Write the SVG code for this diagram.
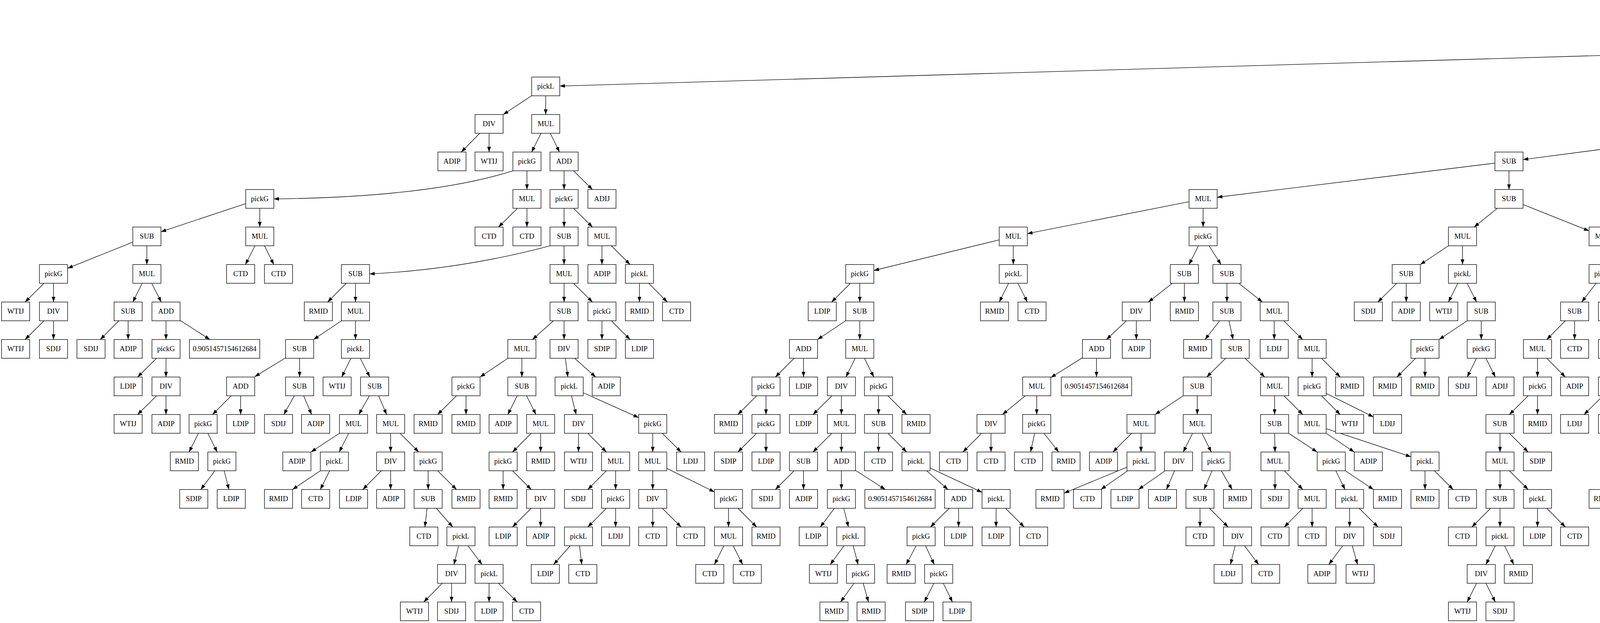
<svg xmlns="http://www.w3.org/2000/svg" width="7183" height="1595" viewBox="0 0 7183 1595">
<style>
.n rect{fill:#fff;stroke:#000;stroke-width:1.33}
.n text{font-family:"Liberation Serif","Times New Roman",serif;font-size:18.67px;text-anchor:middle;fill:#000}
#edges path{fill:none;stroke:#000;stroke-width:1.33;marker-end:url(#ah)}
</style>
<defs>
<marker id="ah" markerUnits="userSpaceOnUse" markerWidth="14" markerHeight="10" viewBox="0 0 14 10" refX="13.3" refY="5" orient="auto"><path d="M0,0.3 L13.3,5 L0,9.7 z" fill="#000"/></marker>
</defs>
<rect width="7183" height="1595" fill="#fff"/>
<g id="edges">
<path d="M5077 37.1 L4705 117.5"/><path d="M5149 40.3 L5392 114.4"/>
<path d="M4633 126.4 L1433 220.3"/><path d="M4669 149.3 V197.3"/><path d="M5428 149.3 V197.3"/><path d="M5464 137.3 L5680 209.3"/>
<path d="M1360.75 245.3 L1288.25 293.3"/><path d="M1397 245.3 V293.3"/><path d="M4651 245.3 L4615 293.3"/><path d="M4687 245.3 L4723 293.3"/><path d="M5416 245.3 L5392 293.3"/><path d="M5452 245.3 L5500 293.3"/><path d="M5716 245.3 V293.3"/><path d="M5752 233.3 L5968 305.3"/>
<path d="M1228.25 341.3 L1180.75 389.3"/><path d="M1252 341.3 V389.3"/><path d="M1385 341.3 L1361 389.3"/><path d="M1408.75 341.3 L1432.25 389.3"/><path d="M4561 322 L3899 408.6"/><path d="M4597 341.3 V389.3"/><path d="M4741 341.3 V389.3"/><path d="M4765 341.3 L4813 389.3"/><path d="M5344 339 L5257 391.6"/><path d="M5380 341.3 V389.3"/><path d="M5524 341.3 V389.3"/><path d="M5560 326.3 L5872 404.3"/><path d="M6004 341.3 V389.3"/><path d="M6040 340.2 L6117.25 389.3"/>
<path d="M1313 437.3 Q1099 505 701 509.3"/><path d="M1349 437.3 V485.3"/><path d="M1444 437.3 V485.3"/><path d="M1468.25 437.3 L1516.75 485.3"/><path d="M3827 417.7 L3116 505"/><path d="M3863 437.3 V485.3"/><path d="M4585 437.3 L4561 485.3"/><path d="M4609 437.3 L4633 485.3"/><path d="M4741 437.3 V485.3"/><path d="M4765 437.3 L4813 485.3"/><path d="M5185 437.3 L5113 485.3"/><path d="M5221 437.3 V485.3"/><path d="M5379.25 437.3 L5377.75 485.3"/><path d="M5416 421.2 L5779 501.4"/><path d="M5908.75 437.3 L5910.25 485.3"/><path d="M5944 437.3 Q6180 505 6601 509.3"/>
<path d="M629 521.3 L412 593.4"/><path d="M665 533.3 V581.3"/><path d="M1324.75 533.3 L1276.25 581.3"/><path d="M1349 533.3 V581.3"/><path d="M1444 533.3 V581.3"/><path d="M1468.25 533.3 L1516.75 581.3"/><path d="M3044 516.4 L2630 598.2"/><path d="M3080 533.3 V581.3"/><path d="M3833.25 533.3 L3773.75 581.3"/><path d="M3899 523.6 L4068 591"/><path d="M4645 533.3 V581.3"/><path d="M4681 533.3 L4753 581.3"/><path d="M5053 533.3 L5005 581.3"/><path d="M5077 533.3 V581.3"/><path d="M5350 533.3 L5296 581.3"/><path d="M5377 533.3 V581.3"/><path d="M5821 533.3 L5833 581.3"/><path d="M5851 531 Q6050 600 6361 605.3"/><path d="M6637 533.3 V581.3"/><path d="M6661 533.3 L6709 581.3"/>
<path d="M340 619.8 L173 686.9"/><path d="M376 629.3 V677.3"/><path d="M652.75 629.3 L628.25 677.3"/><path d="M677 629.3 L701 677.3"/><path d="M1408 629.3 Q1180 690 946 701.3"/><path d="M1444 629.3 V677.3"/><path d="M1541 629.3 V677.3"/><path d="M1565 629.3 L1613 677.3"/><path d="M2558 614.1 L2237 692.5"/><path d="M2594 629.3 V677.3"/><path d="M3068 629.3 L3044 677.3"/><path d="M3095.25 629.3 L3125.75 677.3"/><path d="M3708 629.3 L3636 677.3"/><path d="M3744 629.3 V677.3"/><path d="M4104 629.3 V677.3"/><path d="M4140 629.3 L4212 677.3"/><path d="M4633 629.3 L4609 677.3"/><path d="M4657 629.3 L4681 677.3"/><path d="M4789 629.3 V677.3"/><path d="M4813 629.3 L4861 677.3"/><path d="M5053 629.3 L5005 677.3"/><path d="M5077 629.3 V677.3"/><path d="M5245 629.3 L5197 677.3"/><path d="M5269 629.3 V677.3"/><path d="M5374 629.3 L5368 677.3"/><path d="M5398 629.3 L5440 677.3"/><path d="M5839 629.3 V677.3"/><path d="M5864.25 629.3 L5914.75 677.3"/><path d="M6397 629.3 V677.3"/><path d="M6432.75 629.3 L6504.25 677.3"/><path d="M6637 629.3 V677.3"/><path d="M6661 629.3 L6709 677.3"/>
<path d="M112.75 725.3 L64.25 773.3"/><path d="M137 725.3 V773.3"/><path d="M364 725.3 L340 773.3"/><path d="M388.25 725.3 L412.75 773.3"/><path d="M886.25 725.3 L838.75 773.3"/><path d="M910 725.3 V773.3"/><path d="M1444 725.3 V773.3"/><path d="M1468.25 725.3 L1516.75 773.3"/><path d="M1637 725.3 V773.3"/><path d="M1660.75 725.3 L1708.25 773.3"/><path d="M2177 725.3 L2129 773.3"/><path d="M2201 725.3 V773.3"/><path d="M2582 725.3 L2558 773.3"/><path d="M2606 725.3 L2630 773.3"/><path d="M3001.25 725.3 L2939.75 773.3"/><path d="M3032 725.3 V773.3"/><path d="M3141 725.3 V773.3"/><path d="M3171.25 725.3 L3231.75 773.3"/><path d="M3575.75 725.3 L3527.25 773.3"/><path d="M3600 725.3 V773.3"/><path d="M3732 725.3 L3708 773.3"/><path d="M3756 725.3 L3780 773.3"/><path d="M4085.75 725.3 L4049.25 773.3"/><path d="M4110 725.3 L4122 773.3"/><path d="M4248 725.3 V773.3"/><path d="M4284 724.2 L4361.25 773.3"/><path d="M4585 725.3 L4561 773.3"/><path d="M4609 725.3 L4633 773.3"/><path d="M4705 725.3 L4729 773.3"/><path d="M4729 725.3 L4801 773.3"/><path d="M5053 725.3 L5005 773.3"/><path d="M5077 725.3 V773.3"/><path d="M5245 725.3 L5197 773.3"/><path d="M5269 725.3 V773.3"/><path d="M5436.75 725.3 L5388.25 773.3"/><path d="M5461 725.3 V773.3"/><path d="M5803 719.9 L5689 778.7"/><path d="M5839.75 725.3 L5841.25 773.3"/><path d="M5940 725.3 V773.3"/><path d="M5964.25 725.3 L6012.75 773.3"/><path d="M6391 725.3 L6379 773.3"/><path d="M6415 725.3 L6451 773.3"/><path d="M6546 725.3 L6558 773.3"/><path d="M6570.25 725.3 L6630.75 773.3"/>
<path d="M112.75 821.3 L64.25 869.3"/><path d="M137 821.3 V869.3"/><path d="M304.25 821.3 L256.75 869.3"/><path d="M328 821.3 V869.3"/><path d="M425 821.3 V869.3"/><path d="M461 820.3 L537.5 869.3"/><path d="M874.25 821.3 L802.75 869.3"/><path d="M910 821.3 V869.3"/><path d="M1417 821.3 L1363 869.3"/><path d="M1444 821.3 V869.3"/><path d="M1541 821.3 V869.3"/><path d="M1565 821.3 L1613 869.3"/><path d="M2165 821.3 L2093 869.3"/><path d="M2201 821.3 V869.3"/><path d="M2883.5 821.3 L2832.5 869.3"/><path d="M2909 821.3 V869.3"/><path d="M3122.25 821.3 L3084.75 869.3"/><path d="M3146.25 821.3 L3156.75 869.3"/><path d="M3262 821.3 V869.3"/><path d="M3286.25 821.3 L3334.75 869.3"/><path d="M3756 821.3 L3684 869.3"/><path d="M3792 821.3 V869.3"/><path d="M4007.25 821.3 L3959.75 869.3"/><path d="M4031 821.3 V869.3"/><path d="M4128 821.3 V869.3"/><path d="M4152 821.3 L4200 869.3"/><path d="M4266 821.3 L4302 869.3"/><path d="M4284 814.2 L4417 876.4"/><path d="M4549 821.3 V869.3"/><path d="M4573 821.3 L4621 869.3"/><path d="M5328 821.3 Q5100 880 4921 893.3"/><path d="M5340.25 821.3 L5292.75 869.3"/><path d="M5437 821.3 L5389 869.3"/><path d="M5461 821.3 V869.3"/><path d="M5629 821.3 L5581 869.3"/><path d="M5653 821.3 V869.3"/><path d="M5842 821.3 V869.3"/><path d="M5866.75 821.3 L5916.25 869.3"/><path d="M6037 821.3 V869.3"/><path d="M6061 821.3 L6109 869.3"/><path d="M6349 821.3 L6301 869.3"/><path d="M6373 821.3 V869.3"/><path d="M6469 821.3 V869.3"/><path d="M6492.75 821.3 L6540.25 869.3"/><path d="M6661 821.3 V869.3"/><path d="M6697 821.3 L6769 869.3"/>
<path d="M400.75 917.3 L352.25 965.3"/><path d="M425 917.3 V965.3"/><path d="M731 916.2 L652 964.4"/><path d="M767 917.3 V965.3"/><path d="M898.25 917.3 L874.75 965.3"/><path d="M922.25 917.3 L946.75 965.3"/><path d="M1300.25 917.3 L1228.75 965.3"/><path d="M1336 917.3 V965.3"/><path d="M1447.25 917.3 L1453.75 965.3"/><path d="M1471 917.3 L1525 965.3"/><path d="M2033 917.3 L1985 965.3"/><path d="M2057 917.3 V965.3"/><path d="M2189.25 917.3 L2165.75 965.3"/><path d="M2213 917.3 L2237 965.3"/><path d="M2771 915.9 L2690 966.7"/><path d="M2807 917.3 V965.3"/><path d="M3137.75 917.3 L3089.25 965.3"/><path d="M3187.25 917.3 L3237.75 965.3"/><path d="M3359 917.3 V965.3"/><path d="M3383 917.3 L3431 965.3"/><path d="M3624 917.3 L3576 965.3"/><path d="M3648 917.3 V965.3"/><path d="M3780 917.3 L3756 965.3"/><path d="M3804 917.3 L3828 965.3"/><path d="M3936 917.3 V965.3"/><path d="M3959.75 917.3 L4007.25 965.3"/><path d="M4200 917.3 L4152 965.3"/><path d="M4224 917.3 V965.3"/><path d="M4320 917.3 V965.3"/><path d="M4344 917.3 L4392 965.3"/><path d="M4467.75 917.3 L4497.25 965.3"/><path d="M4489 915.6 L4572 967"/><path d="M4861 917.3 L4813 965.3"/><path d="M4885 917.3 V965.3"/><path d="M5521 917.3 Q5350 975 5161 989.3"/><path d="M5533 917.3 L5485 965.3"/><path d="M5629 917.3 L5581 965.3"/><path d="M5653 917.3 V965.3"/><path d="M5818.75 917.3 L5772.25 965.3"/><path d="M5842.75 917.3 L5844.25 965.3"/><path d="M5941 917.3 V965.3"/><path d="M5965 917.3 L6013 965.3"/><path d="M6133 917.3 V965.3"/><path d="M6157 917.3 L6205 965.3"/><path d="M6288.75 917.3 L6312.25 965.3"/><path d="M6312.75 917.3 L6384.25 965.3"/><path d="M6636.75 917.3 L6588.25 965.3"/><path d="M6661 917.3 V965.3"/><path d="M6805 917.3 V965.3"/><path d="M6840.75 917.3 L6912.25 965.3"/>
<path d="M400.75 1013.3 L352.25 1061.3"/><path d="M425 1013.3 V1061.3"/><path d="M592 1013.3 L544 1061.3"/><path d="M616 1013.3 V1061.3"/><path d="M753.5 1013.3 L726.5 1061.3"/><path d="M777.25 1013.3 L797.75 1061.3"/><path d="M945.5 1013.3 L918.5 1061.3"/><path d="M969.25 1013.3 L989.75 1061.3"/><path d="M1168.75 1013.3 L1120.25 1061.3"/><path d="M1193 1013.3 V1061.3"/><path d="M1324 1013.3 L1300 1061.3"/><path d="M1348 1013.3 L1372 1061.3"/><path d="M1463 1013.3 L1475 1061.3"/><path d="M1493 1005.5 L1635 1069.2"/><path d="M1937 1013.3 L1889 1061.3"/><path d="M1961 1013.3 V1061.3"/><path d="M2129.75 1013.3 L2081.25 1061.3"/><path d="M2154 1013.3 V1061.3"/><path d="M2249 1013.3 V1061.3"/><path d="M2273 1013.3 L2321 1061.3"/><path d="M2624.75 1013.3 L2566.25 1061.3"/><path d="M2654 1013.3 V1061.3"/><path d="M3029 1013.3 L2957 1061.3"/><path d="M3065 1013.3 V1061.3"/><path d="M3263 1013.3 V1061.3"/><path d="M3287 1013.3 L3335 1061.3"/><path d="M3383 1013.3 L3431 1061.3"/><path d="M3395 1007.2 L3516 1067.4"/><path d="M3912 1013.3 L3864 1061.3"/><path d="M3936 1013.3 V1061.3"/><path d="M4103.75 1013.3 L4055.25 1061.3"/><path d="M4128 1013.3 V1061.3"/><path d="M4224 1013.3 V1061.3"/><path d="M4248 1013.3 L4296 1061.3"/><path d="M4861 1013.3 L4813 1061.3"/><path d="M4885 1013.3 V1061.3"/><path d="M5089 1013.3 L5017 1061.3"/><path d="M5125 1013.3 V1061.3"/><path d="M5521 1007.3 L5401 1067.3"/><path d="M5557 1013.3 V1061.3"/><path d="M5737 1013.3 L5713 1061.3"/><path d="M5760.75 1013.3 L5784.25 1061.3"/><path d="M5857 1013.3 L5881 1061.3"/><path d="M5881 1013.3 L5953 1061.3"/><path d="M6049 1013.3 L6073 1061.3"/><path d="M6073 1013.3 L6145 1061.3"/><path d="M6408.25 1013.3 L6384.75 1061.3"/><path d="M6432.25 1013.3 L6456.75 1061.3"/><path d="M6636.75 1013.3 L6588.25 1061.3"/><path d="M6661 1013.3 V1061.3"/><path d="M6793 1013.3 L6769 1061.3"/><path d="M6817 1013.3 L6841 1061.3"/><path d="M6948 1013.3 V1061.3"/><path d="M6972.25 1013.3 L7020.75 1061.3"/>
<path d="M508 1109.3 L484 1157.3"/><path d="M532 1109.3 L556 1157.3"/><path d="M868.75 1109.3 L796.25 1157.3"/><path d="M892.75 1109.3 L868.25 1157.3"/><path d="M1000 1109.3 V1157.3"/><path d="M1024 1109.3 L1072 1157.3"/><path d="M1360 1109.3 L1312 1157.3"/><path d="M1384 1109.3 V1157.3"/><path d="M1481 1109.3 V1157.3"/><path d="M1504.75 1109.3 L1552.25 1157.3"/><path d="M1671 1109.3 V1157.3"/><path d="M1695.25 1109.3 L1743.75 1157.3"/><path d="M1937 1109.3 L1889 1157.3"/><path d="M1961 1109.3 V1157.3"/><path d="M2129.75 1109.3 L2081.25 1157.3"/><path d="M2154 1109.3 V1157.3"/><path d="M2249 1109.3 V1157.3"/><path d="M2273 1109.3 L2321 1157.3"/><path d="M2513 1109.3 L2465 1157.3"/><path d="M2537 1109.3 V1157.3"/><path d="M2648.75 1109.3 L2638.25 1157.3"/><path d="M2672.75 1109.3 L2710.25 1157.3"/><path d="M2897 1109.3 L2849 1157.3"/><path d="M2921 1109.3 V1157.3"/><path d="M3053 1109.3 L3029 1157.3"/><path d="M3077 1109.3 L3101 1157.3"/><path d="M3263 1109.3 L3264 1157.3"/><path d="M3299.25 1109.3 L3371.75 1157.3"/><path d="M3395 1109.3 L3467 1157.3"/><path d="M3395 1097.3 L3612 1169.4"/><path d="M3840 1109.3 V1157.3"/><path d="M3864 1109.3 L3912 1157.3"/><path d="M4218 1109.3 L4206 1157.3"/><path d="M4242 1109.3 L4278 1157.3"/><path d="M4765 1109.3 L4717 1157.3"/><path d="M4789 1109.3 V1157.3"/><path d="M4957 1109.3 L4909 1157.3"/><path d="M4981 1109.3 V1157.3"/><path d="M5113 1109.3 L5089 1157.3"/><path d="M5137 1109.3 L5161 1157.3"/><path d="M5341 1109.3 L5293 1157.3"/><path d="M5365 1109.3 V1157.3"/><path d="M5533 1109.3 L5485 1157.3"/><path d="M5557 1109.3 V1157.3"/><path d="M5689 1109.3 L5665 1157.3"/><path d="M5713 1109.3 L5737 1157.3"/><path d="M5808.25 1109.3 L5832.75 1157.3"/><path d="M5832.25 1109.3 L5904.75 1157.3"/><path d="M6001 1109.3 L6025 1157.3"/><path d="M6025 1109.3 L6097 1157.3"/><path d="M6936.25 1109.3 L6912.75 1157.3"/><path d="M6960.25 1109.3 L6984.75 1157.3"/>
<path d="M550 1205.3 L514 1253.3"/><path d="M574 1205.3 L586 1253.3"/><path d="M820.25 1205.3 L748.75 1253.3"/><path d="M844 1205.3 L820 1253.3"/><path d="M976.25 1205.3 L928.75 1253.3"/><path d="M1000 1205.3 V1253.3"/><path d="M1096 1205.3 V1253.3"/><path d="M1120.25 1205.3 L1168.75 1253.3"/><path d="M1288 1205.3 V1253.3"/><path d="M1312 1205.3 L1360 1253.3"/><path d="M1552.25 1205.3 L1504.75 1253.3"/><path d="M1576 1205.3 V1253.3"/><path d="M1671 1205.3 V1253.3"/><path d="M1707 1199.1 L1829 1259.5"/><path d="M2033 1205.3 L1985 1253.3"/><path d="M2057 1205.3 V1253.3"/><path d="M2154 1205.3 V1253.3"/><path d="M2190 1204.3 L2266.5 1253.3"/><path d="M2372.25 1205.3 L2426.75 1253.3"/><path d="M2381 1198.2 L2514 1260.4"/><path d="M2885 1196.1 L2724 1262.5"/><path d="M2886.75 1205.3 L2818.25 1253.3"/><path d="M2982.75 1205.3 L2914.25 1253.3"/><path d="M3006.75 1205.3 L2986.25 1253.3"/><path d="M3102.75 1205.3 L3082.25 1253.3"/><path d="M3126.75 1205.3 L3154.25 1253.3"/><path d="M3264 1205.3 V1253.3"/><path d="M3287.75 1205.3 L3335.25 1253.3"/><path d="M3419.75 1205.3 L3443.25 1253.3"/><path d="M3444 1205.3 L3516 1253.3"/><path d="M3648 1205.3 V1253.3"/><path d="M3672 1205.3 L3720 1253.3"/><path d="M3840 1205.3 V1253.3"/><path d="M3864 1205.3 L3912 1253.3"/><path d="M4176 1205.3 L4128 1253.3"/><path d="M4200 1205.3 V1253.3"/><path d="M4296 1205.3 V1253.3"/><path d="M4320 1205.3 L4368 1253.3"/><path d="M4861 1205.3 L4813 1253.3"/><path d="M4885 1205.3 V1253.3"/><path d="M4981 1205.3 V1253.3"/><path d="M5005 1205.3 L5053 1253.3"/><path d="M5245 1205.3 L5197 1253.3"/><path d="M5269 1205.3 V1253.3"/><path d="M5365 1205.3 V1253.3"/><path d="M5389 1205.3 L5437 1253.3"/><path d="M5557 1205.3 V1253.3"/><path d="M5593 1199.3 L5713 1259.3"/><path d="M6121 1205.3 L6097 1253.3"/><path d="M6145 1205.3 L6169 1253.3"/><path d="M6984.75 1205.3 L6960.25 1253.3"/><path d="M7009 1205.3 L7033 1253.3"/>
<path d="M1093.25 1301.3 L1087.75 1349.3"/><path d="M1117 1301.3 L1159 1349.3"/><path d="M1360 1301.3 L1312 1349.3"/><path d="M1384 1301.3 V1349.3"/><path d="M1552.25 1301.3 L1504.75 1349.3"/><path d="M1576 1301.3 V1349.3"/><path d="M1671 1301.3 V1349.3"/><path d="M1695.25 1301.3 L1743.75 1349.3"/><path d="M1865 1301.3 V1349.3"/><path d="M1889 1301.3 L1937 1349.3"/><path d="M2136 1301.3 L2100 1349.3"/><path d="M2160 1301.3 L2172 1349.3"/><path d="M2430 1301.3 L2382 1349.3"/><path d="M2454 1301.3 V1349.3"/><path d="M2550 1301.3 V1349.3"/><path d="M2574 1301.3 L2622 1349.3"/><path d="M3072 1301.3 V1349.3"/><path d="M3096 1301.3 L3144 1349.3"/><path d="M3335.25 1301.3 L3287.75 1349.3"/><path d="M3359 1301.3 V1349.3"/><path d="M3455 1301.3 V1349.3"/><path d="M3479.25 1301.3 L3527.75 1349.3"/><path d="M3816 1301.3 L3768 1349.3"/><path d="M3840 1301.3 V1349.3"/><path d="M3936 1301.3 V1349.3"/><path d="M3959.75 1301.3 L4007.25 1349.3"/><path d="M4194 1301.3 L4182 1349.3"/><path d="M4218 1301.3 L4254 1349.3"/><path d="M5245 1301.3 L5197 1349.3"/><path d="M5269 1301.3 V1349.3"/><path d="M5365 1301.3 V1349.3"/><path d="M5389 1301.3 L5437 1349.3"/><path d="M5557 1301.3 V1349.3"/><path d="M5581 1301.3 L5629 1349.3"/><path d="M5749 1301.3 V1349.3"/><path d="M5773 1301.3 L5821 1349.3"/><path d="M6061 1301.3 L6013 1349.3"/><path d="M6085 1301.3 V1349.3"/><path d="M6181 1301.3 V1349.3"/><path d="M6205 1301.3 L6253 1349.3"/><path d="M6924.25 1301.3 L6876.75 1349.3"/><path d="M6948 1301.3 V1349.3"/><path d="M7045 1301.3 V1349.3"/><path d="M7069 1301.3 L7117 1349.3"/>
<path d="M1174 1397.3 L1162 1445.3"/><path d="M1198 1397.3 L1234 1445.3"/><path d="M1459.75 1397.3 L1417.25 1445.3"/><path d="M1483.75 1397.3 L1489.25 1445.3"/><path d="M1853 1397.3 L1829 1445.3"/><path d="M1877 1397.3 L1901 1445.3"/><path d="M2160.5 1397.3 L2125.5 1445.3"/><path d="M2184.25 1397.3 L2196.75 1445.3"/><path d="M2345.25 1397.3 L2319.75 1445.3"/><path d="M2369.25 1397.3 L2391.75 1445.3"/><path d="M3162 1397.3 L3150 1445.3"/><path d="M3186 1397.3 L3222 1445.3"/><path d="M3437.25 1397.3 L3401.75 1445.3"/><path d="M3461.75 1397.3 L3475.25 1445.3"/><path d="M3828 1397.3 L3804 1445.3"/><path d="M3851.75 1397.3 L3875.25 1445.3"/><path d="M4260 1397.3 L4236 1445.3"/><path d="M4284 1397.3 L4308 1445.3"/><path d="M5149 1397.3 L5101 1445.3"/><path d="M5173 1397.3 V1445.3"/><path d="M5269 1397.3 V1445.3"/><path d="M5293 1397.3 L5341 1445.3"/><path d="M5737 1397.3 L5713 1445.3"/><path d="M5760.75 1397.3 L5784.25 1445.3"/>
<path d="M1132.25 1493.3 L1084.75 1541.3"/><path d="M1156 1493.3 V1541.3"/><path d="M1252 1493.3 V1541.3"/><path d="M1276 1493.3 L1324 1541.3"/><path d="M2186 1493.3 L2152 1541.3"/><path d="M2209.75 1493.3 L2223.25 1541.3"/><path d="M2390.75 1493.3 L2366.25 1541.3"/><path d="M2414.75 1493.3 L2438.25 1541.3"/><path d="M3780 1493.3 L3756 1541.3"/><path d="M3804 1493.3 L3828 1541.3"/><path d="M4212 1493.3 L4188 1541.3"/><path d="M4236 1493.3 L4260 1541.3"/>
</g>
<g id="nodes">
<g id="n0_5113" class="n" transform="translate(5113,29.3)"><rect x="-36" y="-24" width="72" height="48"/><text y="5.6">pickL</text></g>
<g id="n1_4669" class="n" transform="translate(4669,125.3)"><rect x="-36" y="-24" width="72" height="48"/><text y="5.6">pickL</text></g>
<g id="n1_5428" class="n" transform="translate(5428,125.3)"><rect x="-36" y="-24" width="72" height="48"/><text y="5.6">MUL</text></g>
<g id="n2_1397" class="n" transform="translate(1397,221.3)"><rect x="-36" y="-24" width="72" height="48"/><text y="5.6">pickL</text></g>
<g id="n2_4669" class="n" transform="translate(4669,221.3)"><rect x="-36" y="-24" width="72" height="48"/><text y="5.6">MUL</text></g>
<g id="n2_5428" class="n" transform="translate(5428,221.3)"><rect x="-36" y="-24" width="72" height="48"/><text y="5.6">pickG</text></g>
<g id="n2_5716" class="n" transform="translate(5716,221.3)"><rect x="-36" y="-24" width="72" height="48"/><text y="5.6">MUL</text></g>
<g id="n3_1252" class="n" transform="translate(1252,317.3)"><rect x="-36" y="-24" width="72" height="48"/><text y="5.6">DIV</text></g>
<g id="n3_1397" class="n" transform="translate(1397,317.3)"><rect x="-36" y="-24" width="72" height="48"/><text y="5.6">MUL</text></g>
<g id="n3_4597" class="n" transform="translate(4597,317.3)"><rect x="-36" y="-24" width="72" height="48"/><text y="5.6">pickG</text></g>
<g id="n3_4741" class="n" transform="translate(4741,317.3)"><rect x="-36" y="-24" width="72" height="48"/><text y="5.6">ADD</text></g>
<g id="n3_5380" class="n" transform="translate(5380,317.3)"><rect x="-36" y="-24" width="72" height="48"/><text y="5.6">SUB</text></g>
<g id="n3_5524" class="n" transform="translate(5524,317.3)"><rect x="-36" y="-24" width="72" height="48"/><text y="5.6">DIV</text></g>
<g id="n3_5716" class="n" transform="translate(5716,317.3)"><rect x="-36" y="-24" width="72" height="48"/><text y="5.6">ADIP</text></g>
<g id="n3_6004" class="n" transform="translate(6004,317.3)"><rect x="-36" y="-24" width="72" height="48"/><text y="5.6">ADD</text></g>
<g id="n4_1157" class="n" transform="translate(1157,413.3)"><rect x="-36" y="-24" width="72" height="48"/><text y="5.6">ADIP</text></g>
<g id="n4_1252" class="n" transform="translate(1252,413.3)"><rect x="-36" y="-24" width="72" height="48"/><text y="5.6">WTIJ</text></g>
<g id="n4_1349" class="n" transform="translate(1349,413.3)"><rect x="-36" y="-24" width="72" height="48"/><text y="5.6">pickG</text></g>
<g id="n4_1444" class="n" transform="translate(1444,413.3)"><rect x="-36" y="-24" width="72" height="48"/><text y="5.6">ADD</text></g>
<g id="n4_3863" class="n" transform="translate(3863,413.3)"><rect x="-36" y="-24" width="72" height="48"/><text y="5.6">SUB</text></g>
<g id="n4_4597" class="n" transform="translate(4597,413.3)"><rect x="-36" y="-24" width="72" height="48"/><text y="5.6">DIV</text></g>
<g id="n4_4741" class="n" transform="translate(4741,413.3)"><rect x="-36" y="-24" width="72" height="48"/><text y="5.6">MUL</text></g>
<g id="n4_4837" class="n" transform="translate(4837,413.3)"><rect x="-36" y="-24" width="72" height="48"/><text y="5.6">ADIJ</text></g>
<g id="n4_5221" class="n" transform="translate(5221,413.3)"><rect x="-36" y="-24" width="72" height="48"/><text y="5.6">MUL</text></g>
<g id="n4_5380" class="n" transform="translate(5380,413.3)"><rect x="-36" y="-24" width="72" height="48"/><text y="5.6">SUB</text></g>
<g id="n4_5524" class="n" transform="translate(5524,413.3)"><rect x="-36" y="-24" width="72" height="48"/><text y="5.6">RMID</text></g>
<g id="n4_5908" class="n" transform="translate(5908,413.3)"><rect x="-36" y="-24" width="72" height="48"/><text y="5.6">MUL</text></g>
<g id="n4_6004" class="n" transform="translate(6004,413.3)"><rect x="-36" y="-24" width="72" height="48"/><text y="5.6">LDIJ</text></g>
<g id="n4_6155" class="n" transform="translate(6155,413.3)"><rect x="-90" y="-24" width="180" height="48"/><text y="5.6">0.9051457154612684</text></g>
<g id="n5_665" class="n" transform="translate(665,509.3)"><rect x="-36" y="-24" width="72" height="48"/><text y="5.6">pickG</text></g>
<g id="n5_1349" class="n" transform="translate(1349,509.3)"><rect x="-36" y="-24" width="72" height="48"/><text y="5.6">MUL</text></g>
<g id="n5_1444" class="n" transform="translate(1444,509.3)"><rect x="-36" y="-24" width="72" height="48"/><text y="5.6">pickG</text></g>
<g id="n5_1541" class="n" transform="translate(1541,509.3)"><rect x="-36" y="-24" width="72" height="48"/><text y="5.6">ADIJ</text></g>
<g id="n5_3080" class="n" transform="translate(3080,509.3)"><rect x="-36" y="-24" width="72" height="48"/><text y="5.6">MUL</text></g>
<g id="n5_3863" class="n" transform="translate(3863,509.3)"><rect x="-36" y="-24" width="72" height="48"/><text y="5.6">SUB</text></g>
<g id="n5_4549" class="n" transform="translate(4549,509.3)"><rect x="-36" y="-24" width="72" height="48"/><text y="5.6">CTD</text></g>
<g id="n5_4645" class="n" transform="translate(4645,509.3)"><rect x="-36" y="-24" width="72" height="48"/><text y="5.6">pickG</text></g>
<g id="n5_4741" class="n" transform="translate(4741,509.3)"><rect x="-36" y="-24" width="72" height="48"/><text y="5.6">CTD</text></g>
<g id="n5_4837" class="n" transform="translate(4837,509.3)"><rect x="-36" y="-24" width="72" height="48"/><text y="5.6">CTD</text></g>
<g id="n5_5077" class="n" transform="translate(5077,509.3)"><rect x="-36" y="-24" width="72" height="48"/><text y="5.6">pickL</text></g>
<g id="n5_5221" class="n" transform="translate(5221,509.3)"><rect x="-36" y="-24" width="72" height="48"/><text y="5.6">SDIP</text></g>
<g id="n5_5377" class="n" transform="translate(5377,509.3)"><rect x="-36" y="-24" width="72" height="48"/><text y="5.6">MUL</text></g>
<g id="n5_5815" class="n" transform="translate(5815,509.3)"><rect x="-36" y="-24" width="72" height="48"/><text y="5.6">MUL</text></g>
<g id="n5_5911" class="n" transform="translate(5911,509.3)"><rect x="-36" y="-24" width="72" height="48"/><text y="5.6">SDIJ</text></g>
<g id="n5_6637" class="n" transform="translate(6637,509.3)"><rect x="-36" y="-24" width="72" height="48"/><text y="5.6">pickG</text></g>
<g id="n6_376" class="n" transform="translate(376,605.3)"><rect x="-36" y="-24" width="72" height="48"/><text y="5.6">SUB</text></g>
<g id="n6_665" class="n" transform="translate(665,605.3)"><rect x="-36" y="-24" width="72" height="48"/><text y="5.6">MUL</text></g>
<g id="n6_1252" class="n" transform="translate(1252,605.3)"><rect x="-36" y="-24" width="72" height="48"/><text y="5.6">CTD</text></g>
<g id="n6_1349" class="n" transform="translate(1349,605.3)"><rect x="-36" y="-24" width="72" height="48"/><text y="5.6">CTD</text></g>
<g id="n6_1444" class="n" transform="translate(1444,605.3)"><rect x="-36" y="-24" width="72" height="48"/><text y="5.6">SUB</text></g>
<g id="n6_1541" class="n" transform="translate(1541,605.3)"><rect x="-36" y="-24" width="72" height="48"/><text y="5.6">MUL</text></g>
<g id="n6_2594" class="n" transform="translate(2594,605.3)"><rect x="-36" y="-24" width="72" height="48"/><text y="5.6">MUL</text></g>
<g id="n6_3080" class="n" transform="translate(3080,605.3)"><rect x="-36" y="-24" width="72" height="48"/><text y="5.6">pickG</text></g>
<g id="n6_3744" class="n" transform="translate(3744,605.3)"><rect x="-36" y="-24" width="72" height="48"/><text y="5.6">MUL</text></g>
<g id="n6_4104" class="n" transform="translate(4104,605.3)"><rect x="-36" y="-24" width="72" height="48"/><text y="5.6">MUL</text></g>
<g id="n6_4645" class="n" transform="translate(4645,605.3)"><rect x="-36" y="-24" width="72" height="48"/><text y="5.6">SUB</text></g>
<g id="n6_4789" class="n" transform="translate(4789,605.3)"><rect x="-36" y="-24" width="72" height="48"/><text y="5.6">DIV</text></g>
<g id="n6_4981" class="n" transform="translate(4981,605.3)"><rect x="-36" y="-24" width="72" height="48"/><text y="5.6">WTIJ</text></g>
<g id="n6_5077" class="n" transform="translate(5077,605.3)"><rect x="-36" y="-24" width="72" height="48"/><text y="5.6">pickG</text></g>
<g id="n6_5269" class="n" transform="translate(5269,605.3)"><rect x="-36" y="-24" width="72" height="48"/><text y="5.6">pickG</text></g>
<g id="n6_5377" class="n" transform="translate(5377,605.3)"><rect x="-36" y="-24" width="72" height="48"/><text y="5.6">pickL</text></g>
<g id="n6_5839" class="n" transform="translate(5839,605.3)"><rect x="-36" y="-24" width="72" height="48"/><text y="5.6">MUL</text></g>
<g id="n6_6397" class="n" transform="translate(6397,605.3)"><rect x="-36" y="-24" width="72" height="48"/><text y="5.6">MUL</text></g>
<g id="n6_6637" class="n" transform="translate(6637,605.3)"><rect x="-36" y="-24" width="72" height="48"/><text y="5.6">pickL</text></g>
<g id="n6_6733" class="n" transform="translate(6733,605.3)"><rect x="-36" y="-24" width="72" height="48"/><text y="5.6">LDIJ</text></g>
<g id="n7_137" class="n" transform="translate(137,701.3)"><rect x="-36" y="-24" width="72" height="48"/><text y="5.6">pickG</text></g>
<g id="n7_376" class="n" transform="translate(376,701.3)"><rect x="-36" y="-24" width="72" height="48"/><text y="5.6">MUL</text></g>
<g id="n7_616" class="n" transform="translate(616,701.3)"><rect x="-36" y="-24" width="72" height="48"/><text y="5.6">CTD</text></g>
<g id="n7_713" class="n" transform="translate(713,701.3)"><rect x="-36" y="-24" width="72" height="48"/><text y="5.6">CTD</text></g>
<g id="n7_910" class="n" transform="translate(910,701.3)"><rect x="-36" y="-24" width="72" height="48"/><text y="5.6">SUB</text></g>
<g id="n7_1444" class="n" transform="translate(1444,701.3)"><rect x="-36" y="-24" width="72" height="48"/><text y="5.6">MUL</text></g>
<g id="n7_1541" class="n" transform="translate(1541,701.3)"><rect x="-36" y="-24" width="72" height="48"/><text y="5.6">ADIP</text></g>
<g id="n7_1637" class="n" transform="translate(1637,701.3)"><rect x="-36" y="-24" width="72" height="48"/><text y="5.6">pickL</text></g>
<g id="n7_2201" class="n" transform="translate(2201,701.3)"><rect x="-36" y="-24" width="72" height="48"/><text y="5.6">pickG</text></g>
<g id="n7_2594" class="n" transform="translate(2594,701.3)"><rect x="-36" y="-24" width="72" height="48"/><text y="5.6">pickL</text></g>
<g id="n7_3032" class="n" transform="translate(3032,701.3)"><rect x="-36" y="-24" width="72" height="48"/><text y="5.6">SUB</text></g>
<g id="n7_3141" class="n" transform="translate(3141,701.3)"><rect x="-36" y="-24" width="72" height="48"/><text y="5.6">SUB</text></g>
<g id="n7_3600" class="n" transform="translate(3600,701.3)"><rect x="-36" y="-24" width="72" height="48"/><text y="5.6">SUB</text></g>
<g id="n7_3744" class="n" transform="translate(3744,701.3)"><rect x="-36" y="-24" width="72" height="48"/><text y="5.6">pickL</text></g>
<g id="n7_4104" class="n" transform="translate(4104,701.3)"><rect x="-36" y="-24" width="72" height="48"/><text y="5.6">pickG</text></g>
<g id="n7_4248" class="n" transform="translate(4248,701.3)"><rect x="-36" y="-24" width="72" height="48"/><text y="5.6">ADD</text></g>
<g id="n7_4597" class="n" transform="translate(4597,701.3)"><rect x="-36" y="-24" width="72" height="48"/><text y="5.6">MUL</text></g>
<g id="n7_4693" class="n" transform="translate(4693,701.3)"><rect x="-36" y="-24" width="72" height="48"/><text y="5.6">pickL</text></g>
<g id="n7_4789" class="n" transform="translate(4789,701.3)"><rect x="-36" y="-24" width="72" height="48"/><text y="5.6">WTIJ</text></g>
<g id="n7_4885" class="n" transform="translate(4885,701.3)"><rect x="-36" y="-24" width="72" height="48"/><text y="5.6">SDIJ</text></g>
<g id="n7_4981" class="n" transform="translate(4981,701.3)"><rect x="-36" y="-24" width="72" height="48"/><text y="5.6">WTIJ</text></g>
<g id="n7_5077" class="n" transform="translate(5077,701.3)"><rect x="-36" y="-24" width="72" height="48"/><text y="5.6">DIV</text></g>
<g id="n7_5173" class="n" transform="translate(5173,701.3)"><rect x="-36" y="-24" width="72" height="48"/><text y="5.6">SDIP</text></g>
<g id="n7_5269" class="n" transform="translate(5269,701.3)"><rect x="-36" y="-24" width="72" height="48"/><text y="5.6">MUL</text></g>
<g id="n7_5365" class="n" transform="translate(5365,701.3)"><rect x="-36" y="-24" width="72" height="48"/><text y="5.6">WTIJ</text></g>
<g id="n7_5461" class="n" transform="translate(5461,701.3)"><rect x="-36" y="-24" width="72" height="48"/><text y="5.6">SUB</text></g>
<g id="n7_5839" class="n" transform="translate(5839,701.3)"><rect x="-36" y="-24" width="72" height="48"/><text y="5.6">pickG</text></g>
<g id="n7_5940" class="n" transform="translate(5940,701.3)"><rect x="-36" y="-24" width="72" height="48"/><text y="5.6">pickL</text></g>
<g id="n7_6397" class="n" transform="translate(6397,701.3)"><rect x="-36" y="-24" width="72" height="48"/><text y="5.6">SUB</text></g>
<g id="n7_6540" class="n" transform="translate(6540,701.3)"><rect x="-36" y="-24" width="72" height="48"/><text y="5.6">pickL</text></g>
<g id="n7_6637" class="n" transform="translate(6637,701.3)"><rect x="-36" y="-24" width="72" height="48"/><text y="5.6">LDIP</text></g>
<g id="n7_6733" class="n" transform="translate(6733,701.3)"><rect x="-36" y="-24" width="72" height="48"/><text y="5.6">CTD</text></g>
<g id="n8_40" class="n" transform="translate(40,797.3)"><rect x="-36" y="-24" width="72" height="48"/><text y="5.6">WTIJ</text></g>
<g id="n8_137" class="n" transform="translate(137,797.3)"><rect x="-36" y="-24" width="72" height="48"/><text y="5.6">DIV</text></g>
<g id="n8_328" class="n" transform="translate(328,797.3)"><rect x="-36" y="-24" width="72" height="48"/><text y="5.6">SUB</text></g>
<g id="n8_425" class="n" transform="translate(425,797.3)"><rect x="-36" y="-24" width="72" height="48"/><text y="5.6">ADD</text></g>
<g id="n8_815" class="n" transform="translate(815,797.3)"><rect x="-36" y="-24" width="72" height="48"/><text y="5.6">RMID</text></g>
<g id="n8_910" class="n" transform="translate(910,797.3)"><rect x="-36" y="-24" width="72" height="48"/><text y="5.6">MUL</text></g>
<g id="n8_1444" class="n" transform="translate(1444,797.3)"><rect x="-36" y="-24" width="72" height="48"/><text y="5.6">SUB</text></g>
<g id="n8_1541" class="n" transform="translate(1541,797.3)"><rect x="-36" y="-24" width="72" height="48"/><text y="5.6">pickG</text></g>
<g id="n8_1637" class="n" transform="translate(1637,797.3)"><rect x="-36" y="-24" width="72" height="48"/><text y="5.6">RMID</text></g>
<g id="n8_1732" class="n" transform="translate(1732,797.3)"><rect x="-36" y="-24" width="72" height="48"/><text y="5.6">CTD</text></g>
<g id="n8_2105" class="n" transform="translate(2105,797.3)"><rect x="-36" y="-24" width="72" height="48"/><text y="5.6">LDIP</text></g>
<g id="n8_2201" class="n" transform="translate(2201,797.3)"><rect x="-36" y="-24" width="72" height="48"/><text y="5.6">SUB</text></g>
<g id="n8_2546" class="n" transform="translate(2546,797.3)"><rect x="-36" y="-24" width="72" height="48"/><text y="5.6">RMID</text></g>
<g id="n8_2642" class="n" transform="translate(2642,797.3)"><rect x="-36" y="-24" width="72" height="48"/><text y="5.6">CTD</text></g>
<g id="n8_2909" class="n" transform="translate(2909,797.3)"><rect x="-36" y="-24" width="72" height="48"/><text y="5.6">DIV</text></g>
<g id="n8_3032" class="n" transform="translate(3032,797.3)"><rect x="-36" y="-24" width="72" height="48"/><text y="5.6">RMID</text></g>
<g id="n8_3141" class="n" transform="translate(3141,797.3)"><rect x="-36" y="-24" width="72" height="48"/><text y="5.6">SUB</text></g>
<g id="n8_3262" class="n" transform="translate(3262,797.3)"><rect x="-36" y="-24" width="72" height="48"/><text y="5.6">MUL</text></g>
<g id="n8_3503" class="n" transform="translate(3503,797.3)"><rect x="-36" y="-24" width="72" height="48"/><text y="5.6">SDIJ</text></g>
<g id="n8_3600" class="n" transform="translate(3600,797.3)"><rect x="-36" y="-24" width="72" height="48"/><text y="5.6">ADIP</text></g>
<g id="n8_3696" class="n" transform="translate(3696,797.3)"><rect x="-36" y="-24" width="72" height="48"/><text y="5.6">WTIJ</text></g>
<g id="n8_3792" class="n" transform="translate(3792,797.3)"><rect x="-36" y="-24" width="72" height="48"/><text y="5.6">SUB</text></g>
<g id="n8_4031" class="n" transform="translate(4031,797.3)"><rect x="-36" y="-24" width="72" height="48"/><text y="5.6">SUB</text></g>
<g id="n8_4128" class="n" transform="translate(4128,797.3)"><rect x="-36" y="-24" width="72" height="48"/><text y="5.6">pickG</text></g>
<g id="n8_4248" class="n" transform="translate(4248,797.3)"><rect x="-36" y="-24" width="72" height="48"/><text y="5.6">MUL</text></g>
<g id="n8_4399" class="n" transform="translate(4399,797.3)"><rect x="-90" y="-24" width="180" height="48"/><text y="5.6">0.9051457154612684</text></g>
<g id="n8_4549" class="n" transform="translate(4549,797.3)"><rect x="-36" y="-24" width="72" height="48"/><text y="5.6">pickG</text></g>
<g id="n8_4645" class="n" transform="translate(4645,797.3)"><rect x="-36" y="-24" width="72" height="48"/><text y="5.6">SDIJ</text></g>
<g id="n8_4741" class="n" transform="translate(4741,797.3)"><rect x="-36" y="-24" width="72" height="48"/><text y="5.6">LDIP</text></g>
<g id="n8_4837" class="n" transform="translate(4837,797.3)"><rect x="-36" y="-24" width="72" height="48"/><text y="5.6">CTD</text></g>
<g id="n8_4981" class="n" transform="translate(4981,797.3)"><rect x="-36" y="-24" width="72" height="48"/><text y="5.6">WTIJ</text></g>
<g id="n8_5077" class="n" transform="translate(5077,797.3)"><rect x="-36" y="-24" width="72" height="48"/><text y="5.6">SDIJ</text></g>
<g id="n8_5173" class="n" transform="translate(5173,797.3)"><rect x="-36" y="-24" width="72" height="48"/><text y="5.6">CTD</text></g>
<g id="n8_5269" class="n" transform="translate(5269,797.3)"><rect x="-36" y="-24" width="72" height="48"/><text y="5.6">CTD</text></g>
<g id="n8_5364" class="n" transform="translate(5364,797.3)"><rect x="-36" y="-24" width="72" height="48"/><text y="5.6">pickL</text></g>
<g id="n8_5461" class="n" transform="translate(5461,797.3)"><rect x="-36" y="-24" width="72" height="48"/><text y="5.6">pickG</text></g>
<g id="n8_5653" class="n" transform="translate(5653,797.3)"><rect x="-36" y="-24" width="72" height="48"/><text y="5.6">SUB</text></g>
<g id="n8_5842" class="n" transform="translate(5842,797.3)"><rect x="-36" y="-24" width="72" height="48"/><text y="5.6">pickL</text></g>
<g id="n8_5940" class="n" transform="translate(5940,797.3)"><rect x="-36" y="-24" width="72" height="48"/><text y="5.6">WTIJ</text></g>
<g id="n8_6037" class="n" transform="translate(6037,797.3)"><rect x="-36" y="-24" width="72" height="48"/><text y="5.6">SUB</text></g>
<g id="n8_6373" class="n" transform="translate(6373,797.3)"><rect x="-36" y="-24" width="72" height="48"/><text y="5.6">ADD</text></g>
<g id="n8_6469" class="n" transform="translate(6469,797.3)"><rect x="-36" y="-24" width="72" height="48"/><text y="5.6">SUB</text></g>
<g id="n8_6564" class="n" transform="translate(6564,797.3)"><rect x="-36" y="-24" width="72" height="48"/><text y="5.6">WTIJ</text></g>
<g id="n8_6661" class="n" transform="translate(6661,797.3)"><rect x="-36" y="-24" width="72" height="48"/><text y="5.6">SUB</text></g>
<g id="n9_40" class="n" transform="translate(40,893.3)"><rect x="-36" y="-24" width="72" height="48"/><text y="5.6">WTIJ</text></g>
<g id="n9_137" class="n" transform="translate(137,893.3)"><rect x="-36" y="-24" width="72" height="48"/><text y="5.6">SDIJ</text></g>
<g id="n9_233" class="n" transform="translate(233,893.3)"><rect x="-36" y="-24" width="72" height="48"/><text y="5.6">SDIJ</text></g>
<g id="n9_328" class="n" transform="translate(328,893.3)"><rect x="-36" y="-24" width="72" height="48"/><text y="5.6">ADIP</text></g>
<g id="n9_425" class="n" transform="translate(425,893.3)"><rect x="-36" y="-24" width="72" height="48"/><text y="5.6">pickG</text></g>
<g id="n9_575" class="n" transform="translate(575,893.3)"><rect x="-90" y="-24" width="180" height="48"/><text y="5.6">0.9051457154612684</text></g>
<g id="n9_767" class="n" transform="translate(767,893.3)"><rect x="-36" y="-24" width="72" height="48"/><text y="5.6">SUB</text></g>
<g id="n9_910" class="n" transform="translate(910,893.3)"><rect x="-36" y="-24" width="72" height="48"/><text y="5.6">pickL</text></g>
<g id="n9_1336" class="n" transform="translate(1336,893.3)"><rect x="-36" y="-24" width="72" height="48"/><text y="5.6">MUL</text></g>
<g id="n9_1444" class="n" transform="translate(1444,893.3)"><rect x="-36" y="-24" width="72" height="48"/><text y="5.6">DIV</text></g>
<g id="n9_1541" class="n" transform="translate(1541,893.3)"><rect x="-36" y="-24" width="72" height="48"/><text y="5.6">SDIP</text></g>
<g id="n9_1637" class="n" transform="translate(1637,893.3)"><rect x="-36" y="-24" width="72" height="48"/><text y="5.6">LDIP</text></g>
<g id="n9_2057" class="n" transform="translate(2057,893.3)"><rect x="-36" y="-24" width="72" height="48"/><text y="5.6">ADD</text></g>
<g id="n9_2201" class="n" transform="translate(2201,893.3)"><rect x="-36" y="-24" width="72" height="48"/><text y="5.6">MUL</text></g>
<g id="n9_2807" class="n" transform="translate(2807,893.3)"><rect x="-36" y="-24" width="72" height="48"/><text y="5.6">ADD</text></g>
<g id="n9_2909" class="n" transform="translate(2909,893.3)"><rect x="-36" y="-24" width="72" height="48"/><text y="5.6">ADIP</text></g>
<g id="n9_3066" class="n" transform="translate(3066,893.3)"><rect x="-36" y="-24" width="72" height="48"/><text y="5.6">RMID</text></g>
<g id="n9_3162" class="n" transform="translate(3162,893.3)"><rect x="-36" y="-24" width="72" height="48"/><text y="5.6">SUB</text></g>
<g id="n9_3262" class="n" transform="translate(3262,893.3)"><rect x="-36" y="-24" width="72" height="48"/><text y="5.6">LDIJ</text></g>
<g id="n9_3359" class="n" transform="translate(3359,893.3)"><rect x="-36" y="-24" width="72" height="48"/><text y="5.6">MUL</text></g>
<g id="n9_3648" class="n" transform="translate(3648,893.3)"><rect x="-36" y="-24" width="72" height="48"/><text y="5.6">pickG</text></g>
<g id="n9_3792" class="n" transform="translate(3792,893.3)"><rect x="-36" y="-24" width="72" height="48"/><text y="5.6">pickG</text></g>
<g id="n9_3936" class="n" transform="translate(3936,893.3)"><rect x="-36" y="-24" width="72" height="48"/><text y="5.6">MUL</text></g>
<g id="n9_4031" class="n" transform="translate(4031,893.3)"><rect x="-36" y="-24" width="72" height="48"/><text y="5.6">CTD</text></g>
<g id="n9_4128" class="n" transform="translate(4128,893.3)"><rect x="-36" y="-24" width="72" height="48"/><text y="5.6">SDIP</text></g>
<g id="n9_4224" class="n" transform="translate(4224,893.3)"><rect x="-36" y="-24" width="72" height="48"/><text y="5.6">SUB</text></g>
<g id="n9_4320" class="n" transform="translate(4320,893.3)"><rect x="-36" y="-24" width="72" height="48"/><text y="5.6">DIV</text></g>
<g id="n9_4453" class="n" transform="translate(4453,893.3)"><rect x="-36" y="-24" width="72" height="48"/><text y="5.6">pickG</text></g>
<g id="n9_4549" class="n" transform="translate(4549,893.3)"><rect x="-36" y="-24" width="72" height="48"/><text y="5.6">RMID</text></g>
<g id="n9_4645" class="n" transform="translate(4645,893.3)"><rect x="-36" y="-24" width="72" height="48"/><text y="5.6">RMID</text></g>
<g id="n9_4885" class="n" transform="translate(4885,893.3)"><rect x="-36" y="-24" width="72" height="48"/><text y="5.6">SUB</text></g>
<g id="n9_5269" class="n" transform="translate(5269,893.3)"><rect x="-36" y="-24" width="72" height="48"/><text y="5.6">CTD</text></g>
<g id="n9_5365" class="n" transform="translate(5365,893.3)"><rect x="-36" y="-24" width="72" height="48"/><text y="5.6">LDIJ</text></g>
<g id="n9_5461" class="n" transform="translate(5461,893.3)"><rect x="-36" y="-24" width="72" height="48"/><text y="5.6">SDIP</text></g>
<g id="n9_5557" class="n" transform="translate(5557,893.3)"><rect x="-36" y="-24" width="72" height="48"/><text y="5.6">DIV</text></g>
<g id="n9_5653" class="n" transform="translate(5653,893.3)"><rect x="-36" y="-24" width="72" height="48"/><text y="5.6">ADD</text></g>
<g id="n9_5842" class="n" transform="translate(5842,893.3)"><rect x="-36" y="-24" width="72" height="48"/><text y="5.6">SUB</text></g>
<g id="n9_5941" class="n" transform="translate(5941,893.3)"><rect x="-36" y="-24" width="72" height="48"/><text y="5.6">pickG</text></g>
<g id="n9_6037" class="n" transform="translate(6037,893.3)"><rect x="-36" y="-24" width="72" height="48"/><text y="5.6">ADIP</text></g>
<g id="n9_6133" class="n" transform="translate(6133,893.3)"><rect x="-36" y="-24" width="72" height="48"/><text y="5.6">ADD</text></g>
<g id="n9_6277" class="n" transform="translate(6277,893.3)"><rect x="-36" y="-24" width="72" height="48"/><text y="5.6">pickG</text></g>
<g id="n9_6373" class="n" transform="translate(6373,893.3)"><rect x="-36" y="-24" width="72" height="48"/><text y="5.6">LDIP</text></g>
<g id="n9_6469" class="n" transform="translate(6469,893.3)"><rect x="-36" y="-24" width="72" height="48"/><text y="5.6">SDIJ</text></g>
<g id="n9_6564" class="n" transform="translate(6564,893.3)"><rect x="-36" y="-24" width="72" height="48"/><text y="5.6">ADIP</text></g>
<g id="n9_6661" class="n" transform="translate(6661,893.3)"><rect x="-36" y="-24" width="72" height="48"/><text y="5.6">MUL</text></g>
<g id="n9_6805" class="n" transform="translate(6805,893.3)"><rect x="-36" y="-24" width="72" height="48"/><text y="5.6">MUL</text></g>
<g id="n10_328" class="n" transform="translate(328,989.3)"><rect x="-36" y="-24" width="72" height="48"/><text y="5.6">LDIP</text></g>
<g id="n10_425" class="n" transform="translate(425,989.3)"><rect x="-36" y="-24" width="72" height="48"/><text y="5.6">DIV</text></g>
<g id="n10_616" class="n" transform="translate(616,989.3)"><rect x="-36" y="-24" width="72" height="48"/><text y="5.6">ADD</text></g>
<g id="n10_767" class="n" transform="translate(767,989.3)"><rect x="-36" y="-24" width="72" height="48"/><text y="5.6">SUB</text></g>
<g id="n10_863" class="n" transform="translate(863,989.3)"><rect x="-36" y="-24" width="72" height="48"/><text y="5.6">WTIJ</text></g>
<g id="n10_959" class="n" transform="translate(959,989.3)"><rect x="-36" y="-24" width="72" height="48"/><text y="5.6">SUB</text></g>
<g id="n10_1193" class="n" transform="translate(1193,989.3)"><rect x="-36" y="-24" width="72" height="48"/><text y="5.6">pickG</text></g>
<g id="n10_1336" class="n" transform="translate(1336,989.3)"><rect x="-36" y="-24" width="72" height="48"/><text y="5.6">SUB</text></g>
<g id="n10_1457" class="n" transform="translate(1457,989.3)"><rect x="-36" y="-24" width="72" height="48"/><text y="5.6">pickL</text></g>
<g id="n10_1552" class="n" transform="translate(1552,989.3)"><rect x="-36" y="-24" width="72" height="48"/><text y="5.6">ADIP</text></g>
<g id="n10_1961" class="n" transform="translate(1961,989.3)"><rect x="-36" y="-24" width="72" height="48"/><text y="5.6">pickG</text></g>
<g id="n10_2057" class="n" transform="translate(2057,989.3)"><rect x="-36" y="-24" width="72" height="48"/><text y="5.6">LDIP</text></g>
<g id="n10_2154" class="n" transform="translate(2154,989.3)"><rect x="-36" y="-24" width="72" height="48"/><text y="5.6">DIV</text></g>
<g id="n10_2249" class="n" transform="translate(2249,989.3)"><rect x="-36" y="-24" width="72" height="48"/><text y="5.6">pickG</text></g>
<g id="n10_2654" class="n" transform="translate(2654,989.3)"><rect x="-36" y="-24" width="72" height="48"/><text y="5.6">MUL</text></g>
<g id="n10_2807" class="n" transform="translate(2807,989.3)"><rect x="-90" y="-24" width="180" height="48"/><text y="5.6">0.9051457154612684</text></g>
<g id="n10_3065" class="n" transform="translate(3065,989.3)"><rect x="-36" y="-24" width="72" height="48"/><text y="5.6">SUB</text></g>
<g id="n10_3263" class="n" transform="translate(3263,989.3)"><rect x="-36" y="-24" width="72" height="48"/><text y="5.6">MUL</text></g>
<g id="n10_3359" class="n" transform="translate(3359,989.3)"><rect x="-36" y="-24" width="72" height="48"/><text y="5.6">pickG</text></g>
<g id="n10_3455" class="n" transform="translate(3455,989.3)"><rect x="-36" y="-24" width="72" height="48"/><text y="5.6">RMID</text></g>
<g id="n10_3552" class="n" transform="translate(3552,989.3)"><rect x="-36" y="-24" width="72" height="48"/><text y="5.6">RMID</text></g>
<g id="n10_3648" class="n" transform="translate(3648,989.3)"><rect x="-36" y="-24" width="72" height="48"/><text y="5.6">RMID</text></g>
<g id="n10_3744" class="n" transform="translate(3744,989.3)"><rect x="-36" y="-24" width="72" height="48"/><text y="5.6">SDIJ</text></g>
<g id="n10_3840" class="n" transform="translate(3840,989.3)"><rect x="-36" y="-24" width="72" height="48"/><text y="5.6">ADIJ</text></g>
<g id="n10_3936" class="n" transform="translate(3936,989.3)"><rect x="-36" y="-24" width="72" height="48"/><text y="5.6">pickG</text></g>
<g id="n10_4031" class="n" transform="translate(4031,989.3)"><rect x="-36" y="-24" width="72" height="48"/><text y="5.6">ADIP</text></g>
<g id="n10_4128" class="n" transform="translate(4128,989.3)"><rect x="-36" y="-24" width="72" height="48"/><text y="5.6">pickG</text></g>
<g id="n10_4224" class="n" transform="translate(4224,989.3)"><rect x="-36" y="-24" width="72" height="48"/><text y="5.6">pickG</text></g>
<g id="n10_4320" class="n" transform="translate(4320,989.3)"><rect x="-36" y="-24" width="72" height="48"/><text y="5.6">CTD</text></g>
<g id="n10_4416" class="n" transform="translate(4416,989.3)"><rect x="-36" y="-24" width="72" height="48"/><text y="5.6">CTD</text></g>
<g id="n10_4512" class="n" transform="translate(4512,989.3)"><rect x="-36" y="-24" width="72" height="48"/><text y="5.6">CTD</text></g>
<g id="n10_4608" class="n" transform="translate(4608,989.3)"><rect x="-36" y="-24" width="72" height="48"/><text y="5.6">RMID</text></g>
<g id="n10_4789" class="n" transform="translate(4789,989.3)"><rect x="-36" y="-24" width="72" height="48"/><text y="5.6">CTD</text></g>
<g id="n10_4885" class="n" transform="translate(4885,989.3)"><rect x="-36" y="-24" width="72" height="48"/><text y="5.6">pickL</text></g>
<g id="n10_5125" class="n" transform="translate(5125,989.3)"><rect x="-36" y="-24" width="72" height="48"/><text y="5.6">pickG</text></g>
<g id="n10_5461" class="n" transform="translate(5461,989.3)"><rect x="-36" y="-24" width="72" height="48"/><text y="5.6">CTD</text></g>
<g id="n10_5557" class="n" transform="translate(5557,989.3)"><rect x="-36" y="-24" width="72" height="48"/><text y="5.6">MUL</text></g>
<g id="n10_5653" class="n" transform="translate(5653,989.3)"><rect x="-36" y="-24" width="72" height="48"/><text y="5.6">LDIP</text></g>
<g id="n10_5749" class="n" transform="translate(5749,989.3)"><rect x="-36" y="-24" width="72" height="48"/><text y="5.6">MUL</text></g>
<g id="n10_5845" class="n" transform="translate(5845,989.3)"><rect x="-36" y="-24" width="72" height="48"/><text y="5.6">pickG</text></g>
<g id="n10_5941" class="n" transform="translate(5941,989.3)"><rect x="-36" y="-24" width="72" height="48"/><text y="5.6">WTIJ</text></g>
<g id="n10_6037" class="n" transform="translate(6037,989.3)"><rect x="-36" y="-24" width="72" height="48"/><text y="5.6">DIV</text></g>
<g id="n10_6133" class="n" transform="translate(6133,989.3)"><rect x="-36" y="-24" width="72" height="48"/><text y="5.6">LDIP</text></g>
<g id="n10_6229" class="n" transform="translate(6229,989.3)"><rect x="-36" y="-24" width="72" height="48"/><text y="5.6">SDIJ</text></g>
<g id="n10_6324" class="n" transform="translate(6324,989.3)"><rect x="-36" y="-24" width="72" height="48"/><text y="5.6">RMID</text></g>
<g id="n10_6420" class="n" transform="translate(6420,989.3)"><rect x="-36" y="-24" width="72" height="48"/><text y="5.6">pickG</text></g>
<g id="n10_6564" class="n" transform="translate(6564,989.3)"><rect x="-36" y="-24" width="72" height="48"/><text y="5.6">ADIP</text></g>
<g id="n10_6661" class="n" transform="translate(6661,989.3)"><rect x="-36" y="-24" width="72" height="48"/><text y="5.6">pickL</text></g>
<g id="n10_6805" class="n" transform="translate(6805,989.3)"><rect x="-36" y="-24" width="72" height="48"/><text y="5.6">DIV</text></g>
<g id="n10_6948" class="n" transform="translate(6948,989.3)"><rect x="-36" y="-24" width="72" height="48"/><text y="5.6">pickG</text></g>
<g id="n11_328" class="n" transform="translate(328,1085.3)"><rect x="-36" y="-24" width="72" height="48"/><text y="5.6">WTIJ</text></g>
<g id="n11_425" class="n" transform="translate(425,1085.3)"><rect x="-36" y="-24" width="72" height="48"/><text y="5.6">ADIP</text></g>
<g id="n11_520" class="n" transform="translate(520,1085.3)"><rect x="-36" y="-24" width="72" height="48"/><text y="5.6">pickG</text></g>
<g id="n11_616" class="n" transform="translate(616,1085.3)"><rect x="-36" y="-24" width="72" height="48"/><text y="5.6">LDIP</text></g>
<g id="n11_713" class="n" transform="translate(713,1085.3)"><rect x="-36" y="-24" width="72" height="48"/><text y="5.6">SDIJ</text></g>
<g id="n11_808" class="n" transform="translate(808,1085.3)"><rect x="-36" y="-24" width="72" height="48"/><text y="5.6">ADIP</text></g>
<g id="n11_905" class="n" transform="translate(905,1085.3)"><rect x="-36" y="-24" width="72" height="48"/><text y="5.6">MUL</text></g>
<g id="n11_1000" class="n" transform="translate(1000,1085.3)"><rect x="-36" y="-24" width="72" height="48"/><text y="5.6">MUL</text></g>
<g id="n11_1096" class="n" transform="translate(1096,1085.3)"><rect x="-36" y="-24" width="72" height="48"/><text y="5.6">RMID</text></g>
<g id="n11_1193" class="n" transform="translate(1193,1085.3)"><rect x="-36" y="-24" width="72" height="48"/><text y="5.6">RMID</text></g>
<g id="n11_1288" class="n" transform="translate(1288,1085.3)"><rect x="-36" y="-24" width="72" height="48"/><text y="5.6">ADIP</text></g>
<g id="n11_1384" class="n" transform="translate(1384,1085.3)"><rect x="-36" y="-24" width="72" height="48"/><text y="5.6">MUL</text></g>
<g id="n11_1481" class="n" transform="translate(1481,1085.3)"><rect x="-36" y="-24" width="72" height="48"/><text y="5.6">DIV</text></g>
<g id="n11_1671" class="n" transform="translate(1671,1085.3)"><rect x="-36" y="-24" width="72" height="48"/><text y="5.6">pickG</text></g>
<g id="n11_1865" class="n" transform="translate(1865,1085.3)"><rect x="-36" y="-24" width="72" height="48"/><text y="5.6">RMID</text></g>
<g id="n11_1961" class="n" transform="translate(1961,1085.3)"><rect x="-36" y="-24" width="72" height="48"/><text y="5.6">pickG</text></g>
<g id="n11_2057" class="n" transform="translate(2057,1085.3)"><rect x="-36" y="-24" width="72" height="48"/><text y="5.6">LDIP</text></g>
<g id="n11_2154" class="n" transform="translate(2154,1085.3)"><rect x="-36" y="-24" width="72" height="48"/><text y="5.6">MUL</text></g>
<g id="n11_2249" class="n" transform="translate(2249,1085.3)"><rect x="-36" y="-24" width="72" height="48"/><text y="5.6">SUB</text></g>
<g id="n11_2345" class="n" transform="translate(2345,1085.3)"><rect x="-36" y="-24" width="72" height="48"/><text y="5.6">RMID</text></g>
<g id="n11_2537" class="n" transform="translate(2537,1085.3)"><rect x="-36" y="-24" width="72" height="48"/><text y="5.6">DIV</text></g>
<g id="n11_2654" class="n" transform="translate(2654,1085.3)"><rect x="-36" y="-24" width="72" height="48"/><text y="5.6">pickG</text></g>
<g id="n11_2921" class="n" transform="translate(2921,1085.3)"><rect x="-36" y="-24" width="72" height="48"/><text y="5.6">MUL</text></g>
<g id="n11_3065" class="n" transform="translate(3065,1085.3)"><rect x="-36" y="-24" width="72" height="48"/><text y="5.6">MUL</text></g>
<g id="n11_3263" class="n" transform="translate(3263,1085.3)"><rect x="-36" y="-24" width="72" height="48"/><text y="5.6">SUB</text></g>
<g id="n11_3359" class="n" transform="translate(3359,1085.3)"><rect x="-36" y="-24" width="72" height="48"/><text y="5.6">MUL</text></g>
<g id="n11_3455" class="n" transform="translate(3455,1085.3)"><rect x="-36" y="-24" width="72" height="48"/><text y="5.6">WTIJ</text></g>
<g id="n11_3552" class="n" transform="translate(3552,1085.3)"><rect x="-36" y="-24" width="72" height="48"/><text y="5.6">LDIJ</text></g>
<g id="n11_3840" class="n" transform="translate(3840,1085.3)"><rect x="-36" y="-24" width="72" height="48"/><text y="5.6">SUB</text></g>
<g id="n11_3936" class="n" transform="translate(3936,1085.3)"><rect x="-36" y="-24" width="72" height="48"/><text y="5.6">RMID</text></g>
<g id="n11_4031" class="n" transform="translate(4031,1085.3)"><rect x="-36" y="-24" width="72" height="48"/><text y="5.6">LDIJ</text></g>
<g id="n11_4128" class="n" transform="translate(4128,1085.3)"><rect x="-36" y="-24" width="72" height="48"/><text y="5.6">SDIP</text></g>
<g id="n11_4224" class="n" transform="translate(4224,1085.3)"><rect x="-36" y="-24" width="72" height="48"/><text y="5.6">SUB</text></g>
<g id="n11_4320" class="n" transform="translate(4320,1085.3)"><rect x="-36" y="-24" width="72" height="48"/><text y="5.6">RMID</text></g>
<g id="n11_4789" class="n" transform="translate(4789,1085.3)"><rect x="-36" y="-24" width="72" height="48"/><text y="5.6">DIV</text></g>
<g id="n11_4885" class="n" transform="translate(4885,1085.3)"><rect x="-36" y="-24" width="72" height="48"/><text y="5.6">RMID</text></g>
<g id="n11_4981" class="n" transform="translate(4981,1085.3)"><rect x="-36" y="-24" width="72" height="48"/><text y="5.6">pickG</text></g>
<g id="n11_5125" class="n" transform="translate(5125,1085.3)"><rect x="-36" y="-24" width="72" height="48"/><text y="5.6">DIV</text></g>
<g id="n11_5365" class="n" transform="translate(5365,1085.3)"><rect x="-36" y="-24" width="72" height="48"/><text y="5.6">SUB</text></g>
<g id="n11_5557" class="n" transform="translate(5557,1085.3)"><rect x="-36" y="-24" width="72" height="48"/><text y="5.6">MUL</text></g>
<g id="n11_5701" class="n" transform="translate(5701,1085.3)"><rect x="-36" y="-24" width="72" height="48"/><text y="5.6">pickG</text></g>
<g id="n11_5796" class="n" transform="translate(5796,1085.3)"><rect x="-36" y="-24" width="72" height="48"/><text y="5.6">pickL</text></g>
<g id="n11_5893" class="n" transform="translate(5893,1085.3)"><rect x="-36" y="-24" width="72" height="48"/><text y="5.6">SDIJ</text></g>
<g id="n11_5989" class="n" transform="translate(5989,1085.3)"><rect x="-36" y="-24" width="72" height="48"/><text y="5.6">pickL</text></g>
<g id="n11_6085" class="n" transform="translate(6085,1085.3)"><rect x="-36" y="-24" width="72" height="48"/><text y="5.6">WTIJ</text></g>
<g id="n11_6181" class="n" transform="translate(6181,1085.3)"><rect x="-36" y="-24" width="72" height="48"/><text y="5.6">SDIJ</text></g>
<g id="n11_6373" class="n" transform="translate(6373,1085.3)"><rect x="-36" y="-24" width="72" height="48"/><text y="5.6">SDIP</text></g>
<g id="n11_6469" class="n" transform="translate(6469,1085.3)"><rect x="-36" y="-24" width="72" height="48"/><text y="5.6">LDIP</text></g>
<g id="n11_6564" class="n" transform="translate(6564,1085.3)"><rect x="-36" y="-24" width="72" height="48"/><text y="5.6">RMID</text></g>
<g id="n11_6661" class="n" transform="translate(6661,1085.3)"><rect x="-36" y="-24" width="72" height="48"/><text y="5.6">CTD</text></g>
<g id="n11_6757" class="n" transform="translate(6757,1085.3)"><rect x="-36" y="-24" width="72" height="48"/><text y="5.6">LDIP</text></g>
<g id="n11_6853" class="n" transform="translate(6853,1085.3)"><rect x="-36" y="-24" width="72" height="48"/><text y="5.6">ADIP</text></g>
<g id="n11_6948" class="n" transform="translate(6948,1085.3)"><rect x="-36" y="-24" width="72" height="48"/><text y="5.6">SUB</text></g>
<g id="n11_7045" class="n" transform="translate(7045,1085.3)"><rect x="-36" y="-24" width="72" height="48"/><text y="5.6">RMID</text></g>
<g id="n12_472" class="n" transform="translate(472,1181.3)"><rect x="-36" y="-24" width="72" height="48"/><text y="5.6">RMID</text></g>
<g id="n12_568" class="n" transform="translate(568,1181.3)"><rect x="-36" y="-24" width="72" height="48"/><text y="5.6">pickG</text></g>
<g id="n12_760" class="n" transform="translate(760,1181.3)"><rect x="-36" y="-24" width="72" height="48"/><text y="5.6">ADIP</text></g>
<g id="n12_856" class="n" transform="translate(856,1181.3)"><rect x="-36" y="-24" width="72" height="48"/><text y="5.6">pickL</text></g>
<g id="n12_1000" class="n" transform="translate(1000,1181.3)"><rect x="-36" y="-24" width="72" height="48"/><text y="5.6">DIV</text></g>
<g id="n12_1096" class="n" transform="translate(1096,1181.3)"><rect x="-36" y="-24" width="72" height="48"/><text y="5.6">pickG</text></g>
<g id="n12_1288" class="n" transform="translate(1288,1181.3)"><rect x="-36" y="-24" width="72" height="48"/><text y="5.6">pickG</text></g>
<g id="n12_1384" class="n" transform="translate(1384,1181.3)"><rect x="-36" y="-24" width="72" height="48"/><text y="5.6">RMID</text></g>
<g id="n12_1481" class="n" transform="translate(1481,1181.3)"><rect x="-36" y="-24" width="72" height="48"/><text y="5.6">WTIJ</text></g>
<g id="n12_1576" class="n" transform="translate(1576,1181.3)"><rect x="-36" y="-24" width="72" height="48"/><text y="5.6">MUL</text></g>
<g id="n12_1671" class="n" transform="translate(1671,1181.3)"><rect x="-36" y="-24" width="72" height="48"/><text y="5.6">MUL</text></g>
<g id="n12_1768" class="n" transform="translate(1768,1181.3)"><rect x="-36" y="-24" width="72" height="48"/><text y="5.6">LDIJ</text></g>
<g id="n12_1865" class="n" transform="translate(1865,1181.3)"><rect x="-36" y="-24" width="72" height="48"/><text y="5.6">SDIP</text></g>
<g id="n12_1961" class="n" transform="translate(1961,1181.3)"><rect x="-36" y="-24" width="72" height="48"/><text y="5.6">LDIP</text></g>
<g id="n12_2057" class="n" transform="translate(2057,1181.3)"><rect x="-36" y="-24" width="72" height="48"/><text y="5.6">SUB</text></g>
<g id="n12_2154" class="n" transform="translate(2154,1181.3)"><rect x="-36" y="-24" width="72" height="48"/><text y="5.6">ADD</text></g>
<g id="n12_2249" class="n" transform="translate(2249,1181.3)"><rect x="-36" y="-24" width="72" height="48"/><text y="5.6">CTD</text></g>
<g id="n12_2345" class="n" transform="translate(2345,1181.3)"><rect x="-36" y="-24" width="72" height="48"/><text y="5.6">pickL</text></g>
<g id="n12_2441" class="n" transform="translate(2441,1181.3)"><rect x="-36" y="-24" width="72" height="48"/><text y="5.6">CTD</text></g>
<g id="n12_2537" class="n" transform="translate(2537,1181.3)"><rect x="-36" y="-24" width="72" height="48"/><text y="5.6">CTD</text></g>
<g id="n12_2633" class="n" transform="translate(2633,1181.3)"><rect x="-36" y="-24" width="72" height="48"/><text y="5.6">CTD</text></g>
<g id="n12_2729" class="n" transform="translate(2729,1181.3)"><rect x="-36" y="-24" width="72" height="48"/><text y="5.6">RMID</text></g>
<g id="n12_2825" class="n" transform="translate(2825,1181.3)"><rect x="-36" y="-24" width="72" height="48"/><text y="5.6">ADIP</text></g>
<g id="n12_2921" class="n" transform="translate(2921,1181.3)"><rect x="-36" y="-24" width="72" height="48"/><text y="5.6">pickL</text></g>
<g id="n12_3017" class="n" transform="translate(3017,1181.3)"><rect x="-36" y="-24" width="72" height="48"/><text y="5.6">DIV</text></g>
<g id="n12_3113" class="n" transform="translate(3113,1181.3)"><rect x="-36" y="-24" width="72" height="48"/><text y="5.6">pickG</text></g>
<g id="n12_3264" class="n" transform="translate(3264,1181.3)"><rect x="-36" y="-24" width="72" height="48"/><text y="5.6">MUL</text></g>
<g id="n12_3408" class="n" transform="translate(3408,1181.3)"><rect x="-36" y="-24" width="72" height="48"/><text y="5.6">pickG</text></g>
<g id="n12_3503" class="n" transform="translate(3503,1181.3)"><rect x="-36" y="-24" width="72" height="48"/><text y="5.6">ADIP</text></g>
<g id="n12_3648" class="n" transform="translate(3648,1181.3)"><rect x="-36" y="-24" width="72" height="48"/><text y="5.6">pickL</text></g>
<g id="n12_3840" class="n" transform="translate(3840,1181.3)"><rect x="-36" y="-24" width="72" height="48"/><text y="5.6">MUL</text></g>
<g id="n12_3936" class="n" transform="translate(3936,1181.3)"><rect x="-36" y="-24" width="72" height="48"/><text y="5.6">SDIP</text></g>
<g id="n12_4200" class="n" transform="translate(4200,1181.3)"><rect x="-36" y="-24" width="72" height="48"/><text y="5.6">MUL</text></g>
<g id="n12_4296" class="n" transform="translate(4296,1181.3)"><rect x="-36" y="-24" width="72" height="48"/><text y="5.6">DIV</text></g>
<g id="n12_4693" class="n" transform="translate(4693,1181.3)"><rect x="-36" y="-24" width="72" height="48"/><text y="5.6">WTIJ</text></g>
<g id="n12_4789" class="n" transform="translate(4789,1181.3)"><rect x="-36" y="-24" width="72" height="48"/><text y="5.6">SDIJ</text></g>
<g id="n12_4885" class="n" transform="translate(4885,1181.3)"><rect x="-36" y="-24" width="72" height="48"/><text y="5.6">MUL</text></g>
<g id="n12_4981" class="n" transform="translate(4981,1181.3)"><rect x="-36" y="-24" width="72" height="48"/><text y="5.6">MUL</text></g>
<g id="n12_5077" class="n" transform="translate(5077,1181.3)"><rect x="-36" y="-24" width="72" height="48"/><text y="5.6">LDIJ</text></g>
<g id="n12_5173" class="n" transform="translate(5173,1181.3)"><rect x="-36" y="-24" width="72" height="48"/><text y="5.6">CTD</text></g>
<g id="n12_5269" class="n" transform="translate(5269,1181.3)"><rect x="-36" y="-24" width="72" height="48"/><text y="5.6">MUL</text></g>
<g id="n12_5365" class="n" transform="translate(5365,1181.3)"><rect x="-36" y="-24" width="72" height="48"/><text y="5.6">pickG</text></g>
<g id="n12_5461" class="n" transform="translate(5461,1181.3)"><rect x="-36" y="-24" width="72" height="48"/><text y="5.6">ADIP</text></g>
<g id="n12_5557" class="n" transform="translate(5557,1181.3)"><rect x="-36" y="-24" width="72" height="48"/><text y="5.6">pickL</text></g>
<g id="n12_5653" class="n" transform="translate(5653,1181.3)"><rect x="-36" y="-24" width="72" height="48"/><text y="5.6">RMID</text></g>
<g id="n12_5749" class="n" transform="translate(5749,1181.3)"><rect x="-36" y="-24" width="72" height="48"/><text y="5.6">RMID</text></g>
<g id="n12_5845" class="n" transform="translate(5845,1181.3)"><rect x="-36" y="-24" width="72" height="48"/><text y="5.6">LDIP</text></g>
<g id="n12_5941" class="n" transform="translate(5941,1181.3)"><rect x="-36" y="-24" width="72" height="48"/><text y="5.6">CTD</text></g>
<g id="n12_6037" class="n" transform="translate(6037,1181.3)"><rect x="-36" y="-24" width="72" height="48"/><text y="5.6">WTIJ</text></g>
<g id="n12_6133" class="n" transform="translate(6133,1181.3)"><rect x="-36" y="-24" width="72" height="48"/><text y="5.6">SUB</text></g>
<g id="n12_6901" class="n" transform="translate(6901,1181.3)"><rect x="-36" y="-24" width="72" height="48"/><text y="5.6">CTD</text></g>
<g id="n12_6997" class="n" transform="translate(6997,1181.3)"><rect x="-36" y="-24" width="72" height="48"/><text y="5.6">pickL</text></g>
<g id="n13_496" class="n" transform="translate(496,1277.3)"><rect x="-36" y="-24" width="72" height="48"/><text y="5.6">SDIP</text></g>
<g id="n13_592" class="n" transform="translate(592,1277.3)"><rect x="-36" y="-24" width="72" height="48"/><text y="5.6">LDIP</text></g>
<g id="n13_713" class="n" transform="translate(713,1277.3)"><rect x="-36" y="-24" width="72" height="48"/><text y="5.6">RMID</text></g>
<g id="n13_808" class="n" transform="translate(808,1277.3)"><rect x="-36" y="-24" width="72" height="48"/><text y="5.6">CTD</text></g>
<g id="n13_905" class="n" transform="translate(905,1277.3)"><rect x="-36" y="-24" width="72" height="48"/><text y="5.6">LDIP</text></g>
<g id="n13_1000" class="n" transform="translate(1000,1277.3)"><rect x="-36" y="-24" width="72" height="48"/><text y="5.6">ADIP</text></g>
<g id="n13_1096" class="n" transform="translate(1096,1277.3)"><rect x="-36" y="-24" width="72" height="48"/><text y="5.6">SUB</text></g>
<g id="n13_1193" class="n" transform="translate(1193,1277.3)"><rect x="-36" y="-24" width="72" height="48"/><text y="5.6">RMID</text></g>
<g id="n13_1288" class="n" transform="translate(1288,1277.3)"><rect x="-36" y="-24" width="72" height="48"/><text y="5.6">RMID</text></g>
<g id="n13_1384" class="n" transform="translate(1384,1277.3)"><rect x="-36" y="-24" width="72" height="48"/><text y="5.6">DIV</text></g>
<g id="n13_1481" class="n" transform="translate(1481,1277.3)"><rect x="-36" y="-24" width="72" height="48"/><text y="5.6">SDIJ</text></g>
<g id="n13_1576" class="n" transform="translate(1576,1277.3)"><rect x="-36" y="-24" width="72" height="48"/><text y="5.6">pickG</text></g>
<g id="n13_1671" class="n" transform="translate(1671,1277.3)"><rect x="-36" y="-24" width="72" height="48"/><text y="5.6">DIV</text></g>
<g id="n13_1865" class="n" transform="translate(1865,1277.3)"><rect x="-36" y="-24" width="72" height="48"/><text y="5.6">pickG</text></g>
<g id="n13_1961" class="n" transform="translate(1961,1277.3)"><rect x="-36" y="-24" width="72" height="48"/><text y="5.6">SDIJ</text></g>
<g id="n13_2057" class="n" transform="translate(2057,1277.3)"><rect x="-36" y="-24" width="72" height="48"/><text y="5.6">ADIP</text></g>
<g id="n13_2154" class="n" transform="translate(2154,1277.3)"><rect x="-36" y="-24" width="72" height="48"/><text y="5.6">pickG</text></g>
<g id="n13_2304" class="n" transform="translate(2304,1277.3)"><rect x="-90" y="-24" width="180" height="48"/><text y="5.6">0.9051457154612684</text></g>
<g id="n13_2454" class="n" transform="translate(2454,1277.3)"><rect x="-36" y="-24" width="72" height="48"/><text y="5.6">ADD</text></g>
<g id="n13_2550" class="n" transform="translate(2550,1277.3)"><rect x="-36" y="-24" width="72" height="48"/><text y="5.6">pickL</text></g>
<g id="n13_2688" class="n" transform="translate(2688,1277.3)"><rect x="-36" y="-24" width="72" height="48"/><text y="5.6">RMID</text></g>
<g id="n13_2784" class="n" transform="translate(2784,1277.3)"><rect x="-36" y="-24" width="72" height="48"/><text y="5.6">CTD</text></g>
<g id="n13_2880" class="n" transform="translate(2880,1277.3)"><rect x="-36" y="-24" width="72" height="48"/><text y="5.6">LDIP</text></g>
<g id="n13_2976" class="n" transform="translate(2976,1277.3)"><rect x="-36" y="-24" width="72" height="48"/><text y="5.6">ADIP</text></g>
<g id="n13_3072" class="n" transform="translate(3072,1277.3)"><rect x="-36" y="-24" width="72" height="48"/><text y="5.6">SUB</text></g>
<g id="n13_3168" class="n" transform="translate(3168,1277.3)"><rect x="-36" y="-24" width="72" height="48"/><text y="5.6">RMID</text></g>
<g id="n13_3264" class="n" transform="translate(3264,1277.3)"><rect x="-36" y="-24" width="72" height="48"/><text y="5.6">SDIJ</text></g>
<g id="n13_3359" class="n" transform="translate(3359,1277.3)"><rect x="-36" y="-24" width="72" height="48"/><text y="5.6">MUL</text></g>
<g id="n13_3455" class="n" transform="translate(3455,1277.3)"><rect x="-36" y="-24" width="72" height="48"/><text y="5.6">pickL</text></g>
<g id="n13_3552" class="n" transform="translate(3552,1277.3)"><rect x="-36" y="-24" width="72" height="48"/><text y="5.6">RMID</text></g>
<g id="n13_3648" class="n" transform="translate(3648,1277.3)"><rect x="-36" y="-24" width="72" height="48"/><text y="5.6">RMID</text></g>
<g id="n13_3744" class="n" transform="translate(3744,1277.3)"><rect x="-36" y="-24" width="72" height="48"/><text y="5.6">CTD</text></g>
<g id="n13_3840" class="n" transform="translate(3840,1277.3)"><rect x="-36" y="-24" width="72" height="48"/><text y="5.6">SUB</text></g>
<g id="n13_3936" class="n" transform="translate(3936,1277.3)"><rect x="-36" y="-24" width="72" height="48"/><text y="5.6">pickL</text></g>
<g id="n13_4104" class="n" transform="translate(4104,1277.3)"><rect x="-36" y="-24" width="72" height="48"/><text y="5.6">RMID</text></g>
<g id="n13_4200" class="n" transform="translate(4200,1277.3)"><rect x="-36" y="-24" width="72" height="48"/><text y="5.6">SUB</text></g>
<g id="n13_4296" class="n" transform="translate(4296,1277.3)"><rect x="-36" y="-24" width="72" height="48"/><text y="5.6">SDIJ</text></g>
<g id="n13_4392" class="n" transform="translate(4392,1277.3)"><rect x="-36" y="-24" width="72" height="48"/><text y="5.6">ADIP</text></g>
<g id="n13_4789" class="n" transform="translate(4789,1277.3)"><rect x="-36" y="-24" width="72" height="48"/><text y="5.6">CTD</text></g>
<g id="n13_4885" class="n" transform="translate(4885,1277.3)"><rect x="-36" y="-24" width="72" height="48"/><text y="5.6">RMID</text></g>
<g id="n13_4981" class="n" transform="translate(4981,1277.3)"><rect x="-36" y="-24" width="72" height="48"/><text y="5.6">CTD</text></g>
<g id="n13_5077" class="n" transform="translate(5077,1277.3)"><rect x="-36" y="-24" width="72" height="48"/><text y="5.6">CTD</text></g>
<g id="n13_5173" class="n" transform="translate(5173,1277.3)"><rect x="-36" y="-24" width="72" height="48"/><text y="5.6">SDIJ</text></g>
<g id="n13_5269" class="n" transform="translate(5269,1277.3)"><rect x="-36" y="-24" width="72" height="48"/><text y="5.6">MUL</text></g>
<g id="n13_5365" class="n" transform="translate(5365,1277.3)"><rect x="-36" y="-24" width="72" height="48"/><text y="5.6">DIV</text></g>
<g id="n13_5461" class="n" transform="translate(5461,1277.3)"><rect x="-36" y="-24" width="72" height="48"/><text y="5.6">RMID</text></g>
<g id="n13_5557" class="n" transform="translate(5557,1277.3)"><rect x="-36" y="-24" width="72" height="48"/><text y="5.6">DIV</text></g>
<g id="n13_5749" class="n" transform="translate(5749,1277.3)"><rect x="-36" y="-24" width="72" height="48"/><text y="5.6">pickG</text></g>
<g id="n13_6085" class="n" transform="translate(6085,1277.3)"><rect x="-36" y="-24" width="72" height="48"/><text y="5.6">pickL</text></g>
<g id="n13_6181" class="n" transform="translate(6181,1277.3)"><rect x="-36" y="-24" width="72" height="48"/><text y="5.6">pickG</text></g>
<g id="n13_6948" class="n" transform="translate(6948,1277.3)"><rect x="-36" y="-24" width="72" height="48"/><text y="5.6">DIV</text></g>
<g id="n13_7045" class="n" transform="translate(7045,1277.3)"><rect x="-36" y="-24" width="72" height="48"/><text y="5.6">pickL</text></g>
<g id="n14_1085" class="n" transform="translate(1085,1373.3)"><rect x="-36" y="-24" width="72" height="48"/><text y="5.6">CTD</text></g>
<g id="n14_1180" class="n" transform="translate(1180,1373.3)"><rect x="-36" y="-24" width="72" height="48"/><text y="5.6">pickL</text></g>
<g id="n14_1288" class="n" transform="translate(1288,1373.3)"><rect x="-36" y="-24" width="72" height="48"/><text y="5.6">LDIP</text></g>
<g id="n14_1384" class="n" transform="translate(1384,1373.3)"><rect x="-36" y="-24" width="72" height="48"/><text y="5.6">ADIP</text></g>
<g id="n14_1481" class="n" transform="translate(1481,1373.3)"><rect x="-36" y="-24" width="72" height="48"/><text y="5.6">pickL</text></g>
<g id="n14_1576" class="n" transform="translate(1576,1373.3)"><rect x="-36" y="-24" width="72" height="48"/><text y="5.6">LDIJ</text></g>
<g id="n14_1671" class="n" transform="translate(1671,1373.3)"><rect x="-36" y="-24" width="72" height="48"/><text y="5.6">CTD</text></g>
<g id="n14_1768" class="n" transform="translate(1768,1373.3)"><rect x="-36" y="-24" width="72" height="48"/><text y="5.6">CTD</text></g>
<g id="n14_1865" class="n" transform="translate(1865,1373.3)"><rect x="-36" y="-24" width="72" height="48"/><text y="5.6">MUL</text></g>
<g id="n14_1961" class="n" transform="translate(1961,1373.3)"><rect x="-36" y="-24" width="72" height="48"/><text y="5.6">RMID</text></g>
<g id="n14_2082" class="n" transform="translate(2082,1373.3)"><rect x="-36" y="-24" width="72" height="48"/><text y="5.6">LDIP</text></g>
<g id="n14_2178" class="n" transform="translate(2178,1373.3)"><rect x="-36" y="-24" width="72" height="48"/><text y="5.6">pickL</text></g>
<g id="n14_2358" class="n" transform="translate(2358,1373.3)"><rect x="-36" y="-24" width="72" height="48"/><text y="5.6">pickG</text></g>
<g id="n14_2454" class="n" transform="translate(2454,1373.3)"><rect x="-36" y="-24" width="72" height="48"/><text y="5.6">LDIP</text></g>
<g id="n14_2550" class="n" transform="translate(2550,1373.3)"><rect x="-36" y="-24" width="72" height="48"/><text y="5.6">LDIP</text></g>
<g id="n14_2646" class="n" transform="translate(2646,1373.3)"><rect x="-36" y="-24" width="72" height="48"/><text y="5.6">CTD</text></g>
<g id="n14_3072" class="n" transform="translate(3072,1373.3)"><rect x="-36" y="-24" width="72" height="48"/><text y="5.6">CTD</text></g>
<g id="n14_3168" class="n" transform="translate(3168,1373.3)"><rect x="-36" y="-24" width="72" height="48"/><text y="5.6">DIV</text></g>
<g id="n14_3264" class="n" transform="translate(3264,1373.3)"><rect x="-36" y="-24" width="72" height="48"/><text y="5.6">CTD</text></g>
<g id="n14_3359" class="n" transform="translate(3359,1373.3)"><rect x="-36" y="-24" width="72" height="48"/><text y="5.6">CTD</text></g>
<g id="n14_3455" class="n" transform="translate(3455,1373.3)"><rect x="-36" y="-24" width="72" height="48"/><text y="5.6">DIV</text></g>
<g id="n14_3552" class="n" transform="translate(3552,1373.3)"><rect x="-36" y="-24" width="72" height="48"/><text y="5.6">SDIJ</text></g>
<g id="n14_3744" class="n" transform="translate(3744,1373.3)"><rect x="-36" y="-24" width="72" height="48"/><text y="5.6">CTD</text></g>
<g id="n14_3840" class="n" transform="translate(3840,1373.3)"><rect x="-36" y="-24" width="72" height="48"/><text y="5.6">pickL</text></g>
<g id="n14_3936" class="n" transform="translate(3936,1373.3)"><rect x="-36" y="-24" width="72" height="48"/><text y="5.6">LDIP</text></g>
<g id="n14_4031" class="n" transform="translate(4031,1373.3)"><rect x="-36" y="-24" width="72" height="48"/><text y="5.6">CTD</text></g>
<g id="n14_4176" class="n" transform="translate(4176,1373.3)"><rect x="-36" y="-24" width="72" height="48"/><text y="5.6">ADIP</text></g>
<g id="n14_4272" class="n" transform="translate(4272,1373.3)"><rect x="-36" y="-24" width="72" height="48"/><text y="5.6">MUL</text></g>
<g id="n14_5173" class="n" transform="translate(5173,1373.3)"><rect x="-36" y="-24" width="72" height="48"/><text y="5.6">SUB</text></g>
<g id="n14_5269" class="n" transform="translate(5269,1373.3)"><rect x="-36" y="-24" width="72" height="48"/><text y="5.6">MUL</text></g>
<g id="n14_5365" class="n" transform="translate(5365,1373.3)"><rect x="-36" y="-24" width="72" height="48"/><text y="5.6">WTIJ</text></g>
<g id="n14_5461" class="n" transform="translate(5461,1373.3)"><rect x="-36" y="-24" width="72" height="48"/><text y="5.6">SDIJ</text></g>
<g id="n14_5557" class="n" transform="translate(5557,1373.3)"><rect x="-36" y="-24" width="72" height="48"/><text y="5.6">WTIJ</text></g>
<g id="n14_5653" class="n" transform="translate(5653,1373.3)"><rect x="-36" y="-24" width="72" height="48"/><text y="5.6">ADIP</text></g>
<g id="n14_5749" class="n" transform="translate(5749,1373.3)"><rect x="-36" y="-24" width="72" height="48"/><text y="5.6">pickL</text></g>
<g id="n14_5845" class="n" transform="translate(5845,1373.3)"><rect x="-36" y="-24" width="72" height="48"/><text y="5.6">LDIJ</text></g>
<g id="n14_5989" class="n" transform="translate(5989,1373.3)"><rect x="-36" y="-24" width="72" height="48"/><text y="5.6">LDIP</text></g>
<g id="n14_6085" class="n" transform="translate(6085,1373.3)"><rect x="-36" y="-24" width="72" height="48"/><text y="5.6">CTD</text></g>
<g id="n14_6181" class="n" transform="translate(6181,1373.3)"><rect x="-36" y="-24" width="72" height="48"/><text y="5.6">LDIJ</text></g>
<g id="n14_6277" class="n" transform="translate(6277,1373.3)"><rect x="-36" y="-24" width="72" height="48"/><text y="5.6">LDIJ</text></g>
<g id="n14_6853" class="n" transform="translate(6853,1373.3)"><rect x="-36" y="-24" width="72" height="48"/><text y="5.6">WTIJ</text></g>
<g id="n14_6948" class="n" transform="translate(6948,1373.3)"><rect x="-36" y="-24" width="72" height="48"/><text y="5.6">SDIJ</text></g>
<g id="n14_7045" class="n" transform="translate(7045,1373.3)"><rect x="-36" y="-24" width="72" height="48"/><text y="5.6">LDIP</text></g>
<g id="n14_7141" class="n" transform="translate(7141,1373.3)"><rect x="-36" y="-24" width="72" height="48"/><text y="5.6">CTD</text></g>
<g id="n15_1156" class="n" transform="translate(1156,1469.3)"><rect x="-36" y="-24" width="72" height="48"/><text y="5.6">DIV</text></g>
<g id="n15_1252" class="n" transform="translate(1252,1469.3)"><rect x="-36" y="-24" width="72" height="48"/><text y="5.6">pickL</text></g>
<g id="n15_1396" class="n" transform="translate(1396,1469.3)"><rect x="-36" y="-24" width="72" height="48"/><text y="5.6">LDIP</text></g>
<g id="n15_1492" class="n" transform="translate(1492,1469.3)"><rect x="-36" y="-24" width="72" height="48"/><text y="5.6">CTD</text></g>
<g id="n15_1817" class="n" transform="translate(1817,1469.3)"><rect x="-36" y="-24" width="72" height="48"/><text y="5.6">CTD</text></g>
<g id="n15_1913" class="n" transform="translate(1913,1469.3)"><rect x="-36" y="-24" width="72" height="48"/><text y="5.6">CTD</text></g>
<g id="n15_2108" class="n" transform="translate(2108,1469.3)"><rect x="-36" y="-24" width="72" height="48"/><text y="5.6">WTIJ</text></g>
<g id="n15_2203" class="n" transform="translate(2203,1469.3)"><rect x="-36" y="-24" width="72" height="48"/><text y="5.6">pickG</text></g>
<g id="n15_2307" class="n" transform="translate(2307,1469.3)"><rect x="-36" y="-24" width="72" height="48"/><text y="5.6">RMID</text></g>
<g id="n15_2403" class="n" transform="translate(2403,1469.3)"><rect x="-36" y="-24" width="72" height="48"/><text y="5.6">pickG</text></g>
<g id="n15_3144" class="n" transform="translate(3144,1469.3)"><rect x="-36" y="-24" width="72" height="48"/><text y="5.6">LDIJ</text></g>
<g id="n15_3240" class="n" transform="translate(3240,1469.3)"><rect x="-36" y="-24" width="72" height="48"/><text y="5.6">CTD</text></g>
<g id="n15_3384" class="n" transform="translate(3384,1469.3)"><rect x="-36" y="-24" width="72" height="48"/><text y="5.6">ADIP</text></g>
<g id="n15_3482" class="n" transform="translate(3482,1469.3)"><rect x="-36" y="-24" width="72" height="48"/><text y="5.6">WTIJ</text></g>
<g id="n15_3792" class="n" transform="translate(3792,1469.3)"><rect x="-36" y="-24" width="72" height="48"/><text y="5.6">DIV</text></g>
<g id="n15_3887" class="n" transform="translate(3887,1469.3)"><rect x="-36" y="-24" width="72" height="48"/><text y="5.6">RMID</text></g>
<g id="n15_4224" class="n" transform="translate(4224,1469.3)"><rect x="-36" y="-24" width="72" height="48"/><text y="5.6">pickG</text></g>
<g id="n15_4320" class="n" transform="translate(4320,1469.3)"><rect x="-36" y="-24" width="72" height="48"/><text y="5.6">RMID</text></g>
<g id="n15_5077" class="n" transform="translate(5077,1469.3)"><rect x="-36" y="-24" width="72" height="48"/><text y="5.6">CTD</text></g>
<g id="n15_5173" class="n" transform="translate(5173,1469.3)"><rect x="-36" y="-24" width="72" height="48"/><text y="5.6">WTIJ</text></g>
<g id="n15_5269" class="n" transform="translate(5269,1469.3)"><rect x="-36" y="-24" width="72" height="48"/><text y="5.6">CTD</text></g>
<g id="n15_5365" class="n" transform="translate(5365,1469.3)"><rect x="-36" y="-24" width="72" height="48"/><text y="5.6">CTD</text></g>
<g id="n15_5701" class="n" transform="translate(5701,1469.3)"><rect x="-36" y="-24" width="72" height="48"/><text y="5.6">LDIP</text></g>
<g id="n15_5796" class="n" transform="translate(5796,1469.3)"><rect x="-36" y="-24" width="72" height="48"/><text y="5.6">CTD</text></g>
<g id="n16_1061" class="n" transform="translate(1061,1565.3)"><rect x="-36" y="-24" width="72" height="48"/><text y="5.6">WTIJ</text></g>
<g id="n16_1156" class="n" transform="translate(1156,1565.3)"><rect x="-36" y="-24" width="72" height="48"/><text y="5.6">SDIJ</text></g>
<g id="n16_1252" class="n" transform="translate(1252,1565.3)"><rect x="-36" y="-24" width="72" height="48"/><text y="5.6">LDIP</text></g>
<g id="n16_1348" class="n" transform="translate(1348,1565.3)"><rect x="-36" y="-24" width="72" height="48"/><text y="5.6">CTD</text></g>
<g id="n16_2135" class="n" transform="translate(2135,1565.3)"><rect x="-36" y="-24" width="72" height="48"/><text y="5.6">RMID</text></g>
<g id="n16_2230" class="n" transform="translate(2230,1565.3)"><rect x="-36" y="-24" width="72" height="48"/><text y="5.6">RMID</text></g>
<g id="n16_2354" class="n" transform="translate(2354,1565.3)"><rect x="-36" y="-24" width="72" height="48"/><text y="5.6">SDIP</text></g>
<g id="n16_2450" class="n" transform="translate(2450,1565.3)"><rect x="-36" y="-24" width="72" height="48"/><text y="5.6">LDIP</text></g>
<g id="n16_3744" class="n" transform="translate(3744,1565.3)"><rect x="-36" y="-24" width="72" height="48"/><text y="5.6">WTIJ</text></g>
<g id="n16_3840" class="n" transform="translate(3840,1565.3)"><rect x="-36" y="-24" width="72" height="48"/><text y="5.6">SDIJ</text></g>
<g id="n16_4176" class="n" transform="translate(4176,1565.3)"><rect x="-36" y="-24" width="72" height="48"/><text y="5.6">RMID</text></g>
<g id="n16_4272" class="n" transform="translate(4272,1565.3)"><rect x="-36" y="-24" width="72" height="48"/><text y="5.6">RMID</text></g>
</g>
</svg>
